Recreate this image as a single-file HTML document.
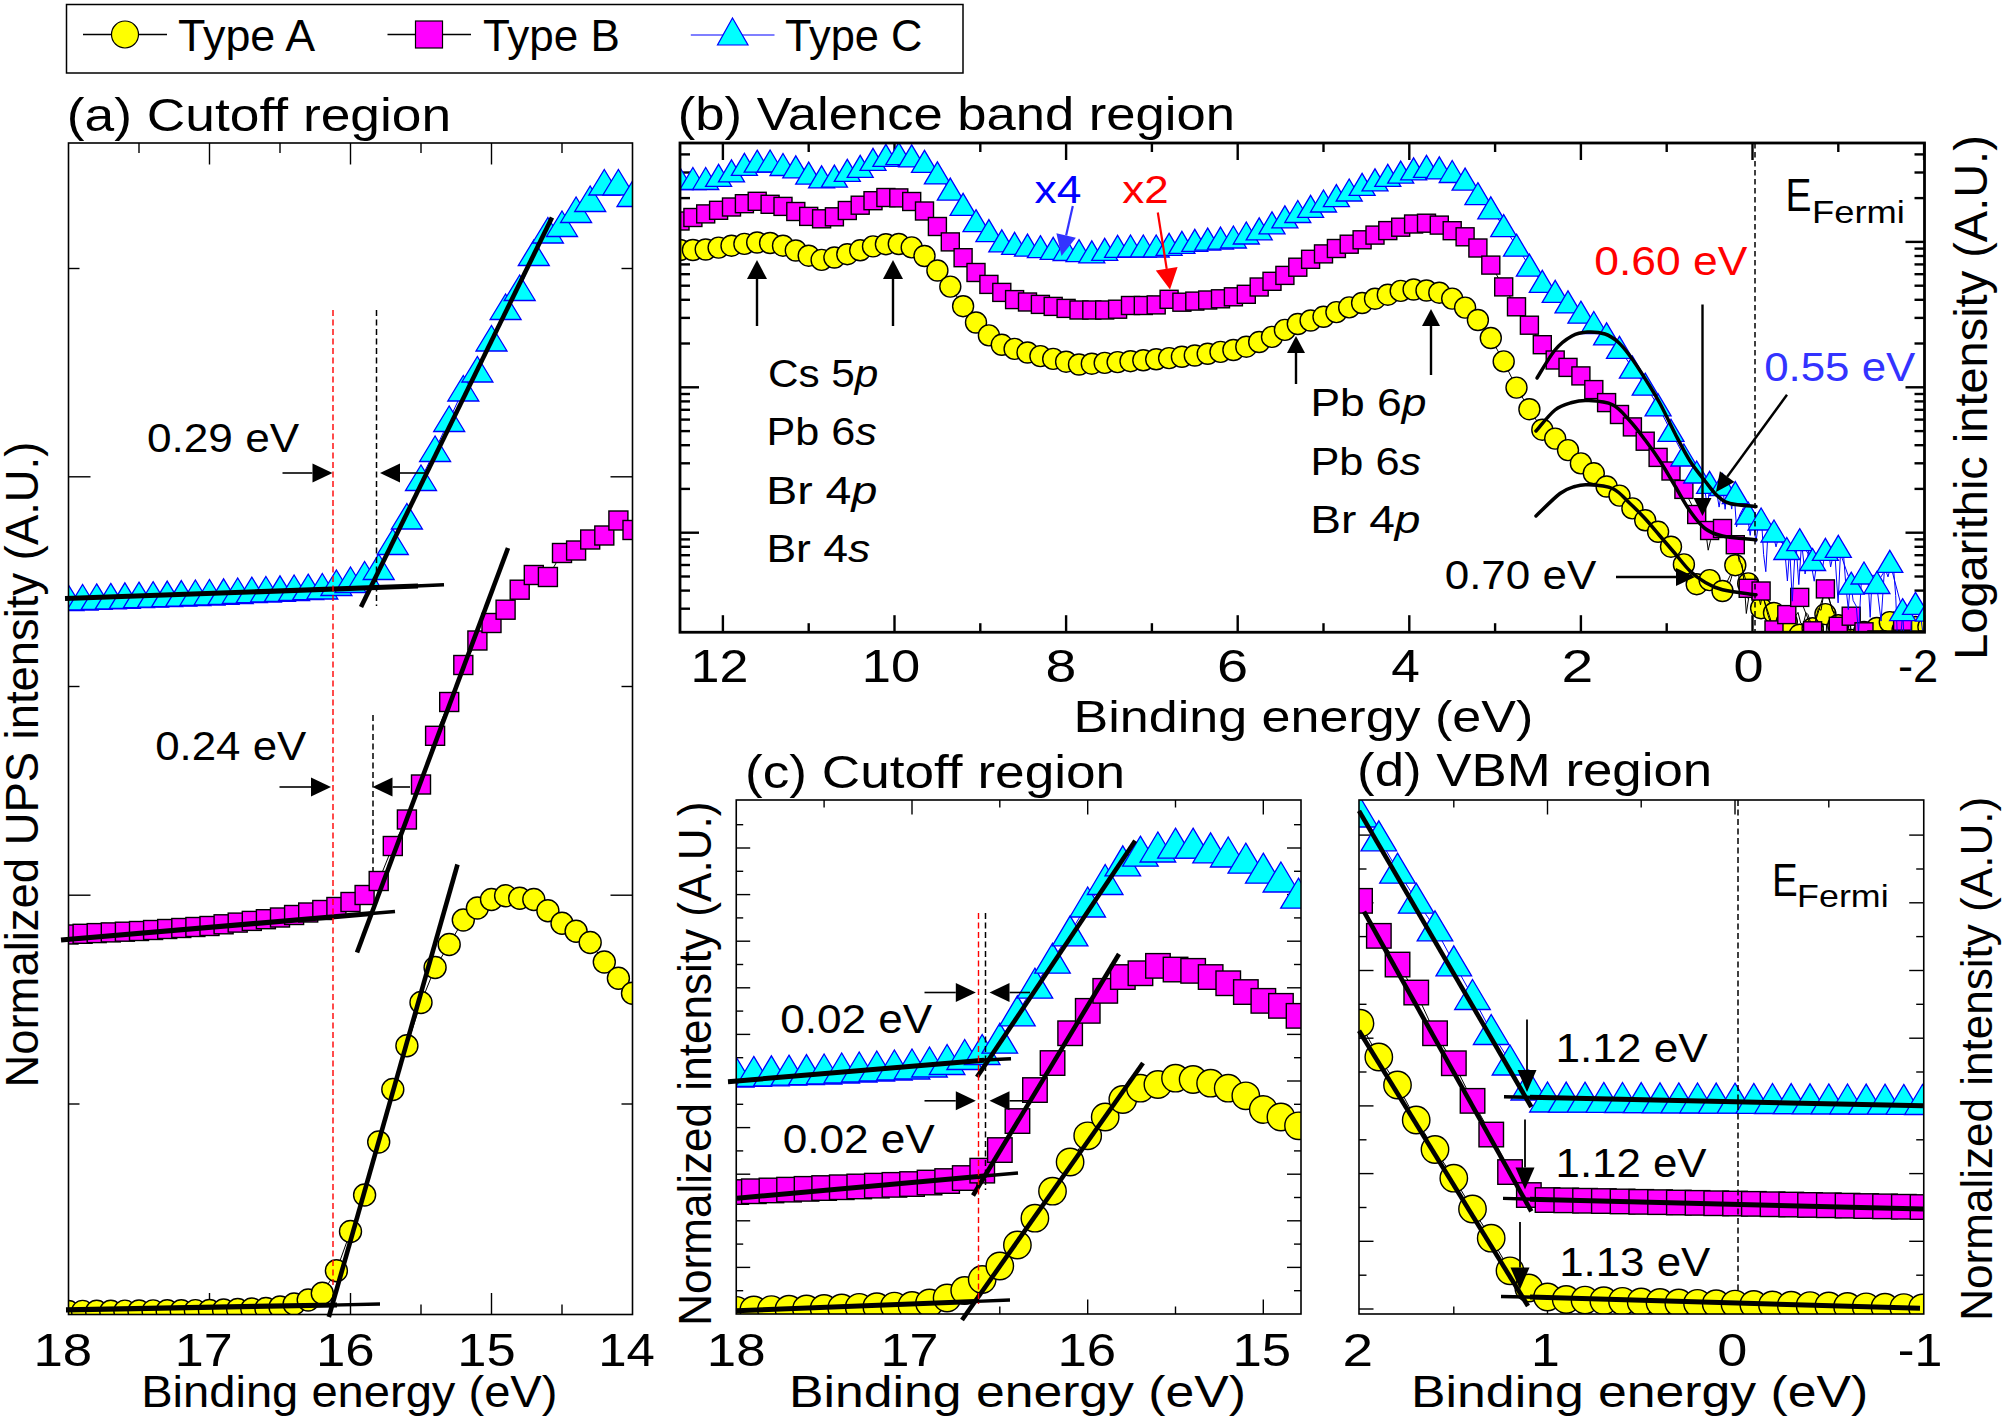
<!DOCTYPE html>
<html lang="en"><head><meta charset="utf-8"><title>UPS spectra: cutoff, valence band and VBM regions</title>
<style>html,body{margin:0;padding:0;background:#fff}svg{display:block}text{font-family:"Liberation Sans",Arial,sans-serif}</style>
</head><body>
<svg width="2007" height="1423" viewBox="0 0 2007 1423">
<rect width="2007" height="1423" fill="#fff"/>
<defs>
<circle id="ca" r="11" fill="#ff0" stroke="#000" stroke-width="1.4"/>
<rect id="sa" x="-9.5" y="-9.5" width="19" height="19" fill="#f0f" stroke="#000" stroke-width="1.4"/>
<path id="ta" d="M0 0L15.5 25.5H-15.5Z" fill="#0ff" stroke="#00f" stroke-width="1.3" stroke-linejoin="miter"/>
<circle id="cb" r="10.5" fill="#ff0" stroke="#000" stroke-width="1.4"/>
<rect id="sb" x="-9" y="-9" width="18" height="18" fill="#f0f" stroke="#000" stroke-width="1.4"/>
<path id="tb" d="M0 0L13 22H-13Z" fill="#0ff" stroke="#00f" stroke-width="1.3" stroke-linejoin="miter"/>
<circle id="cc" r="13.7" fill="#ff0" stroke="#000" stroke-width="1.4"/>
<rect id="sc" x="-12.2" y="-12.2" width="24.5" height="24.5" fill="#f0f" stroke="#000" stroke-width="1.4"/>
<path id="tc" d="M0 0L17.8 30H-17.8Z" fill="#0ff" stroke="#00f" stroke-width="1.3" stroke-linejoin="miter"/>
<clipPath id="clA"><rect x="68.5" y="143" width="564" height="1171.5"/></clipPath>
<clipPath id="clB"><rect x="680" y="143" width="1244.5" height="489.5"/></clipPath>
<clipPath id="clC"><rect x="736.25" y="800" width="564.75" height="514"/></clipPath>
<clipPath id="clD"><rect x="1359" y="800" width="564.75" height="514"/></clipPath>
</defs>
<rect x="66.5" y="4.5" width="896.5" height="68.5" fill="#fff" stroke="#000" stroke-width="1.5"/>
<line x1="83" y1="34.5" x2="167" y2="34.5" stroke="#000" stroke-width="1.3"/>
<circle cx="125" cy="34.5" r="13.5" fill="#ff0" stroke="#000" stroke-width="1.2"/>
<text x="178.1" y="51" font-size="43.5" textLength="137" lengthAdjust="spacingAndGlyphs" fill="#000">Type A</text>
<line x1="387.5" y1="34.5" x2="471" y2="34.5" stroke="#000" stroke-width="1.3"/>
<rect x="415.5" y="21" width="27" height="27" fill="#f0f" stroke="#000" stroke-width="1.2"/>
<text x="482.9" y="51" font-size="43.5" textLength="137" lengthAdjust="spacingAndGlyphs" fill="#000">Type B</text>
<line x1="690.8" y1="35" x2="774.5" y2="35" stroke="#00f" stroke-width="1.2"/>
<path d="M732.5 18L748 45H717.5Z" fill="#0ff" stroke="#00f" stroke-width="1.2"/>
<text x="784.9" y="51" font-size="43.5" textLength="137.5" lengthAdjust="spacingAndGlyphs" fill="#000">Type C</text>
<text x="66.8" y="131" font-size="46" textLength="384.3" lengthAdjust="spacingAndGlyphs" fill="#000">(a) Cutoff region</text>
<text x="677.8" y="129.5" font-size="46" textLength="557.1" lengthAdjust="spacingAndGlyphs" fill="#000">(b) Valence band region</text>
<text x="745.1" y="788" font-size="46" textLength="380" lengthAdjust="spacingAndGlyphs" fill="#000">(c) Cutoff region</text>
<text x="1357.1" y="786" font-size="46" textLength="355.1" lengthAdjust="spacingAndGlyphs" fill="#000">(d) VBM region</text>
<line x1="139" y1="143" x2="139" y2="153" stroke="#000" stroke-width="1.4"/>
<line x1="139" y1="1314.5" x2="139" y2="1304.5" stroke="#000" stroke-width="1.4"/>
<line x1="209.5" y1="143" x2="209.5" y2="164.5" stroke="#000" stroke-width="1.4"/>
<line x1="209.5" y1="1314.5" x2="209.5" y2="1293" stroke="#000" stroke-width="1.4"/>
<line x1="280" y1="143" x2="280" y2="153" stroke="#000" stroke-width="1.4"/>
<line x1="280" y1="1314.5" x2="280" y2="1304.5" stroke="#000" stroke-width="1.4"/>
<line x1="350.5" y1="143" x2="350.5" y2="164.5" stroke="#000" stroke-width="1.4"/>
<line x1="350.5" y1="1314.5" x2="350.5" y2="1293" stroke="#000" stroke-width="1.4"/>
<line x1="421" y1="143" x2="421" y2="153" stroke="#000" stroke-width="1.4"/>
<line x1="421" y1="1314.5" x2="421" y2="1304.5" stroke="#000" stroke-width="1.4"/>
<line x1="491.5" y1="143" x2="491.5" y2="164.5" stroke="#000" stroke-width="1.4"/>
<line x1="491.5" y1="1314.5" x2="491.5" y2="1293" stroke="#000" stroke-width="1.4"/>
<line x1="562" y1="143" x2="562" y2="153" stroke="#000" stroke-width="1.4"/>
<line x1="562" y1="1314.5" x2="562" y2="1304.5" stroke="#000" stroke-width="1.4"/>
<line x1="68.5" y1="1104" x2="79.5" y2="1104" stroke="#000" stroke-width="1.4"/>
<line x1="632.5" y1="1104" x2="621.5" y2="1104" stroke="#000" stroke-width="1.4"/>
<line x1="68.5" y1="895.2" x2="90.5" y2="895.2" stroke="#000" stroke-width="1.4"/>
<line x1="632.5" y1="895.2" x2="610.5" y2="895.2" stroke="#000" stroke-width="1.4"/>
<line x1="68.5" y1="686.5" x2="79.5" y2="686.5" stroke="#000" stroke-width="1.4"/>
<line x1="632.5" y1="686.5" x2="621.5" y2="686.5" stroke="#000" stroke-width="1.4"/>
<line x1="68.5" y1="476.8" x2="90.5" y2="476.8" stroke="#000" stroke-width="1.4"/>
<line x1="632.5" y1="476.8" x2="610.5" y2="476.8" stroke="#000" stroke-width="1.4"/>
<line x1="68.5" y1="268.5" x2="79.5" y2="268.5" stroke="#000" stroke-width="1.4"/>
<line x1="632.5" y1="268.5" x2="621.5" y2="268.5" stroke="#000" stroke-width="1.4"/>
<g clip-path="url(#clA)">
<polyline points="68.5,1311.5 82.6,1311.4 96.7,1311.3 110.8,1311.2 124.9,1311.1 139,1311 153.1,1310.9 167.2,1310.8 181.3,1310.7 195.4,1310.6 209.5,1310.5 223.6,1310 237.7,1309.5 251.8,1309 265.9,1308.5 280,1307 294.1,1304 308.2,1300 322.3,1293.2 336.4,1270.8 350.5,1231.5 364.6,1195 378.7,1142 392.8,1089.5 406.9,1045.8 421,1002.5 435.1,967.5 449.2,944.5 463.3,920 477.4,908 491.5,899.5 505.6,895.8 519.7,898.2 533.8,899.5 547.9,910.8 562,923.2 576.1,931.2 590.2,942.5 604.3,962 618.4,978.2 632.5,993.2" fill="none" stroke="#000" stroke-width="1"/>
<use href="#ca" x="68.5" y="1311.5"/>
<use href="#ca" x="82.6" y="1311.4"/>
<use href="#ca" x="96.7" y="1311.3"/>
<use href="#ca" x="110.8" y="1311.2"/>
<use href="#ca" x="124.9" y="1311.1"/>
<use href="#ca" x="139" y="1311"/>
<use href="#ca" x="153.1" y="1310.9"/>
<use href="#ca" x="167.2" y="1310.8"/>
<use href="#ca" x="181.3" y="1310.7"/>
<use href="#ca" x="195.4" y="1310.6"/>
<use href="#ca" x="209.5" y="1310.5"/>
<use href="#ca" x="223.6" y="1310"/>
<use href="#ca" x="237.7" y="1309.5"/>
<use href="#ca" x="251.8" y="1309"/>
<use href="#ca" x="265.9" y="1308.5"/>
<use href="#ca" x="280" y="1307"/>
<use href="#ca" x="294.1" y="1304"/>
<use href="#ca" x="308.2" y="1300"/>
<use href="#ca" x="322.3" y="1293.2"/>
<use href="#ca" x="336.4" y="1270.8"/>
<use href="#ca" x="350.5" y="1231.5"/>
<use href="#ca" x="364.6" y="1195"/>
<use href="#ca" x="378.7" y="1142"/>
<use href="#ca" x="392.8" y="1089.5"/>
<use href="#ca" x="406.9" y="1045.8"/>
<use href="#ca" x="421" y="1002.5"/>
<use href="#ca" x="435.1" y="967.5"/>
<use href="#ca" x="449.2" y="944.5"/>
<use href="#ca" x="463.3" y="920"/>
<use href="#ca" x="477.4" y="908"/>
<use href="#ca" x="491.5" y="899.5"/>
<use href="#ca" x="505.6" y="895.8"/>
<use href="#ca" x="519.7" y="898.2"/>
<use href="#ca" x="533.8" y="899.5"/>
<use href="#ca" x="547.9" y="910.8"/>
<use href="#ca" x="562" y="923.2"/>
<use href="#ca" x="576.1" y="931.2"/>
<use href="#ca" x="590.2" y="942.5"/>
<use href="#ca" x="604.3" y="962"/>
<use href="#ca" x="618.4" y="978.2"/>
<use href="#ca" x="632.5" y="993.2"/>
<polyline points="68.5,934.5 82.6,933.8 96.7,933.1 110.8,932.4 124.9,931.7 139,931 153.1,930 167.2,929 181.3,928 195.4,927 209.5,926 223.6,924.3 237.7,922.6 251.8,920.9 265.9,919.2 280,917.5 294.1,915 308.2,912.5 322.3,910 336.4,907 350.5,902 364.6,895 378.7,881 392.8,846 406.9,819.5 421,784.5 435.1,735.8 449.2,702 463.3,665 477.4,640.5 491.5,623 505.6,609.7 519.7,589.7 533.8,575 547.9,577 562,553 576.1,550.5 590.2,539.5 604.3,535.5 618.4,520.5 632.5,530" fill="none" stroke="#000" stroke-width="1"/>
<use href="#sa" x="68.5" y="934.5"/>
<use href="#sa" x="82.6" y="933.8"/>
<use href="#sa" x="96.7" y="933.1"/>
<use href="#sa" x="110.8" y="932.4"/>
<use href="#sa" x="124.9" y="931.7"/>
<use href="#sa" x="139" y="931"/>
<use href="#sa" x="153.1" y="930"/>
<use href="#sa" x="167.2" y="929"/>
<use href="#sa" x="181.3" y="928"/>
<use href="#sa" x="195.4" y="927"/>
<use href="#sa" x="209.5" y="926"/>
<use href="#sa" x="223.6" y="924.3"/>
<use href="#sa" x="237.7" y="922.6"/>
<use href="#sa" x="251.8" y="920.9"/>
<use href="#sa" x="265.9" y="919.2"/>
<use href="#sa" x="280" y="917.5"/>
<use href="#sa" x="294.1" y="915"/>
<use href="#sa" x="308.2" y="912.5"/>
<use href="#sa" x="322.3" y="910"/>
<use href="#sa" x="336.4" y="907"/>
<use href="#sa" x="350.5" y="902"/>
<use href="#sa" x="364.6" y="895"/>
<use href="#sa" x="378.7" y="881"/>
<use href="#sa" x="392.8" y="846"/>
<use href="#sa" x="406.9" y="819.5"/>
<use href="#sa" x="421" y="784.5"/>
<use href="#sa" x="435.1" y="735.8"/>
<use href="#sa" x="449.2" y="702"/>
<use href="#sa" x="463.3" y="665"/>
<use href="#sa" x="477.4" y="640.5"/>
<use href="#sa" x="491.5" y="623"/>
<use href="#sa" x="505.6" y="609.7"/>
<use href="#sa" x="519.7" y="589.7"/>
<use href="#sa" x="533.8" y="575"/>
<use href="#sa" x="547.9" y="577"/>
<use href="#sa" x="562" y="553"/>
<use href="#sa" x="576.1" y="550.5"/>
<use href="#sa" x="590.2" y="539.5"/>
<use href="#sa" x="604.3" y="535.5"/>
<use href="#sa" x="618.4" y="520.5"/>
<use href="#sa" x="632.5" y="530"/>
<polyline points="68.5,599 82.6,598.5 96.7,597.9 110.8,597.4 124.9,596.8 139,596.2 153.1,595.7 167.2,595.1 181.3,594.6 195.4,594 209.5,593.5 223.6,592.8 237.7,592 251.8,591.2 265.9,590.5 280,589.8 294.1,589 308.2,588.2 322.3,587.5 336.4,584 350.5,581 364.6,575.5 378.7,568 392.8,543 406.9,517.5 421,479 435.1,450 449.2,420 463.3,389.5 477.4,370.5 491.5,339.5 505.6,308 519.7,289 533.8,254 547.9,231.5 562,225 576.1,211 590.2,200 604.3,183.5 618.4,183.5 632.5,195" fill="none" stroke="#00f" stroke-width="1"/>
<use href="#ta" x="68.5" y="585"/>
<use href="#ta" x="82.6" y="584.5"/>
<use href="#ta" x="96.7" y="583.9"/>
<use href="#ta" x="110.8" y="583.4"/>
<use href="#ta" x="124.9" y="582.8"/>
<use href="#ta" x="139" y="582.2"/>
<use href="#ta" x="153.1" y="581.7"/>
<use href="#ta" x="167.2" y="581.1"/>
<use href="#ta" x="181.3" y="580.6"/>
<use href="#ta" x="195.4" y="580"/>
<use href="#ta" x="209.5" y="579.5"/>
<use href="#ta" x="223.6" y="578.8"/>
<use href="#ta" x="237.7" y="578"/>
<use href="#ta" x="251.8" y="577.2"/>
<use href="#ta" x="265.9" y="576.5"/>
<use href="#ta" x="280" y="575.8"/>
<use href="#ta" x="294.1" y="575"/>
<use href="#ta" x="308.2" y="574.2"/>
<use href="#ta" x="322.3" y="573.5"/>
<use href="#ta" x="336.4" y="570"/>
<use href="#ta" x="350.5" y="567"/>
<use href="#ta" x="364.6" y="561.5"/>
<use href="#ta" x="378.7" y="554"/>
<use href="#ta" x="392.8" y="529"/>
<use href="#ta" x="406.9" y="503.5"/>
<use href="#ta" x="421" y="465"/>
<use href="#ta" x="435.1" y="436"/>
<use href="#ta" x="449.2" y="406"/>
<use href="#ta" x="463.3" y="375.5"/>
<use href="#ta" x="477.4" y="356.5"/>
<use href="#ta" x="491.5" y="325.5"/>
<use href="#ta" x="505.6" y="294"/>
<use href="#ta" x="519.7" y="275"/>
<use href="#ta" x="533.8" y="240"/>
<use href="#ta" x="547.9" y="217.5"/>
<use href="#ta" x="562" y="211"/>
<use href="#ta" x="576.1" y="197"/>
<use href="#ta" x="590.2" y="186"/>
<use href="#ta" x="604.3" y="169.5"/>
<use href="#ta" x="618.4" y="169.5"/>
<use href="#ta" x="632.5" y="181"/>
</g>
<line x1="65" y1="598.5" x2="418" y2="586" stroke="#000" stroke-width="5.2"/>
<line x1="410" y1="586.3" x2="444" y2="584.8" stroke="#000" stroke-width="3.4"/>
<line x1="361" y1="607" x2="552" y2="217.5" stroke="#000" stroke-width="4.6"/>
<line x1="61" y1="940" x2="372" y2="913.5" stroke="#000" stroke-width="5.2"/>
<line x1="365" y1="914" x2="395" y2="911.5" stroke="#000" stroke-width="3.4"/>
<line x1="357" y1="952.5" x2="508" y2="548" stroke="#000" stroke-width="4.6"/>
<line x1="66" y1="1309.8" x2="337" y2="1305" stroke="#000" stroke-width="5.2"/>
<line x1="330" y1="1305.1" x2="380" y2="1304" stroke="#000" stroke-width="3.4"/>
<line x1="328.8" y1="1317" x2="457.5" y2="864.5" stroke="#000" stroke-width="4.6"/>
<line x1="333" y1="310" x2="333" y2="1285" stroke="#f00" stroke-width="1.4" stroke-dasharray="6 3.5"/>
<line x1="376.5" y1="310" x2="376.5" y2="606" stroke="#000" stroke-width="1.5" stroke-dasharray="6 3.5"/>
<line x1="373" y1="715" x2="373" y2="872" stroke="#000" stroke-width="1.5" stroke-dasharray="6 3.5"/>
<path d="M282.5 473L312.5 473" stroke="#000" stroke-width="1.6" fill="none"/>
<path d="M332.5 473L312.5 482.5L312.5 463.5Z" fill="#000"/>
<path d="M425 473L400 473" stroke="#000" stroke-width="1.6" fill="none"/>
<path d="M380 473L400 463.5L400 482.5Z" fill="#000"/>
<path d="M279.5 787L311 787" stroke="#000" stroke-width="1.6" fill="none"/>
<path d="M331 787L311 796.5L311 777.5Z" fill="#000"/>
<path d="M410 787L392.5 787" stroke="#000" stroke-width="1.6" fill="none"/>
<path d="M372.5 787L392.5 777.5L392.5 796.5Z" fill="#000"/>
<text x="147" y="451.8" font-size="40" textLength="152.1" lengthAdjust="spacingAndGlyphs" fill="#000">0.29 eV</text>
<text x="155.2" y="760" font-size="40" textLength="151.1" lengthAdjust="spacingAndGlyphs" fill="#000">0.24 eV</text>
<rect x="68.5" y="143" width="564.0" height="1171.5" fill="none" stroke="#000" stroke-width="1.6"/>
<text x="33.5" y="1365.8" font-size="46.5" textLength="58.7" lengthAdjust="spacingAndGlyphs" fill="#000">18</text>
<text x="174.8" y="1365.8" font-size="46.5" textLength="57.9" lengthAdjust="spacingAndGlyphs" fill="#000">17</text>
<text x="316" y="1365.8" font-size="46.5" textLength="58.7" lengthAdjust="spacingAndGlyphs" fill="#000">16</text>
<text x="457.3" y="1365.8" font-size="46.5" textLength="58.4" lengthAdjust="spacingAndGlyphs" fill="#000">15</text>
<text x="598.2" y="1365.8" font-size="46.5" textLength="56.7" lengthAdjust="spacingAndGlyphs" fill="#000">14</text>
<text x="141.2" y="1407" font-size="43.5" textLength="416.3" lengthAdjust="spacingAndGlyphs" fill="#000">Binding energy (eV)</text>
<text transform="translate(38.3,1084) rotate(-90)" x="-3.6" font-size="46.5" textLength="645.9" lengthAdjust="spacingAndGlyphs" fill="#000">Normalized UPS intensity (A.U.)</text>
<line x1="722.9" y1="143" x2="722.9" y2="160" stroke="#000" stroke-width="2.4"/>
<line x1="722.9" y1="632.2" x2="722.9" y2="615.2" stroke="#000" stroke-width="2.4"/>
<line x1="808.7" y1="143" x2="808.7" y2="152" stroke="#000" stroke-width="2.4"/>
<line x1="808.7" y1="632.2" x2="808.7" y2="623.2" stroke="#000" stroke-width="2.4"/>
<line x1="894.5" y1="143" x2="894.5" y2="160" stroke="#000" stroke-width="2.4"/>
<line x1="894.5" y1="632.2" x2="894.5" y2="615.2" stroke="#000" stroke-width="2.4"/>
<line x1="980.3" y1="143" x2="980.3" y2="152" stroke="#000" stroke-width="2.4"/>
<line x1="980.3" y1="632.2" x2="980.3" y2="623.2" stroke="#000" stroke-width="2.4"/>
<line x1="1066.1" y1="143" x2="1066.1" y2="160" stroke="#000" stroke-width="2.4"/>
<line x1="1066.1" y1="632.2" x2="1066.1" y2="615.2" stroke="#000" stroke-width="2.4"/>
<line x1="1151.9" y1="143" x2="1151.9" y2="152" stroke="#000" stroke-width="2.4"/>
<line x1="1151.9" y1="632.2" x2="1151.9" y2="623.2" stroke="#000" stroke-width="2.4"/>
<line x1="1237.7" y1="143" x2="1237.7" y2="160" stroke="#000" stroke-width="2.4"/>
<line x1="1237.7" y1="632.2" x2="1237.7" y2="615.2" stroke="#000" stroke-width="2.4"/>
<line x1="1323.5" y1="143" x2="1323.5" y2="152" stroke="#000" stroke-width="2.4"/>
<line x1="1323.5" y1="632.2" x2="1323.5" y2="623.2" stroke="#000" stroke-width="2.4"/>
<line x1="1409.3" y1="143" x2="1409.3" y2="160" stroke="#000" stroke-width="2.4"/>
<line x1="1409.3" y1="632.2" x2="1409.3" y2="615.2" stroke="#000" stroke-width="2.4"/>
<line x1="1495.1" y1="143" x2="1495.1" y2="152" stroke="#000" stroke-width="2.4"/>
<line x1="1495.1" y1="632.2" x2="1495.1" y2="623.2" stroke="#000" stroke-width="2.4"/>
<line x1="1580.9" y1="143" x2="1580.9" y2="160" stroke="#000" stroke-width="2.4"/>
<line x1="1580.9" y1="632.2" x2="1580.9" y2="615.2" stroke="#000" stroke-width="2.4"/>
<line x1="1666.7" y1="143" x2="1666.7" y2="152" stroke="#000" stroke-width="2.4"/>
<line x1="1666.7" y1="632.2" x2="1666.7" y2="623.2" stroke="#000" stroke-width="2.4"/>
<line x1="1752.5" y1="143" x2="1752.5" y2="160" stroke="#000" stroke-width="2.4"/>
<line x1="1752.5" y1="632.2" x2="1752.5" y2="615.2" stroke="#000" stroke-width="2.4"/>
<line x1="1838.3" y1="143" x2="1838.3" y2="152" stroke="#000" stroke-width="2.4"/>
<line x1="1838.3" y1="632.2" x2="1838.3" y2="623.2" stroke="#000" stroke-width="2.4"/>
<line x1="1924.1" y1="143" x2="1924.1" y2="160" stroke="#000" stroke-width="2.4"/>
<line x1="1924.1" y1="632.2" x2="1924.1" y2="615.2" stroke="#000" stroke-width="2.4"/>
<line x1="680" y1="241.9" x2="699" y2="241.9" stroke="#000" stroke-width="2.4"/>
<line x1="1924.5" y1="241.9" x2="1905.5" y2="241.9" stroke="#000" stroke-width="2.4"/>
<line x1="680" y1="198.1" x2="690" y2="198.1" stroke="#000" stroke-width="2.4"/>
<line x1="1924.5" y1="198.1" x2="1914.5" y2="198.1" stroke="#000" stroke-width="2.4"/>
<line x1="680" y1="172.5" x2="690" y2="172.5" stroke="#000" stroke-width="2.4"/>
<line x1="1924.5" y1="172.5" x2="1914.5" y2="172.5" stroke="#000" stroke-width="2.4"/>
<line x1="680" y1="154.4" x2="690" y2="154.4" stroke="#000" stroke-width="2.4"/>
<line x1="1924.5" y1="154.4" x2="1914.5" y2="154.4" stroke="#000" stroke-width="2.4"/>
<line x1="680" y1="387.3" x2="699" y2="387.3" stroke="#000" stroke-width="2.4"/>
<line x1="1924.5" y1="387.3" x2="1905.5" y2="387.3" stroke="#000" stroke-width="2.4"/>
<line x1="680" y1="343.5" x2="690" y2="343.5" stroke="#000" stroke-width="2.4"/>
<line x1="1924.5" y1="343.5" x2="1914.5" y2="343.5" stroke="#000" stroke-width="2.4"/>
<line x1="680" y1="317.9" x2="690" y2="317.9" stroke="#000" stroke-width="2.4"/>
<line x1="1924.5" y1="317.9" x2="1914.5" y2="317.9" stroke="#000" stroke-width="2.4"/>
<line x1="680" y1="299.8" x2="690" y2="299.8" stroke="#000" stroke-width="2.4"/>
<line x1="1924.5" y1="299.8" x2="1914.5" y2="299.8" stroke="#000" stroke-width="2.4"/>
<line x1="680" y1="285.7" x2="690" y2="285.7" stroke="#000" stroke-width="2.4"/>
<line x1="1924.5" y1="285.7" x2="1914.5" y2="285.7" stroke="#000" stroke-width="2.4"/>
<line x1="680" y1="274.2" x2="690" y2="274.2" stroke="#000" stroke-width="2.4"/>
<line x1="1924.5" y1="274.2" x2="1914.5" y2="274.2" stroke="#000" stroke-width="2.4"/>
<line x1="680" y1="264.4" x2="690" y2="264.4" stroke="#000" stroke-width="2.4"/>
<line x1="1924.5" y1="264.4" x2="1914.5" y2="264.4" stroke="#000" stroke-width="2.4"/>
<line x1="680" y1="256" x2="690" y2="256" stroke="#000" stroke-width="2.4"/>
<line x1="1924.5" y1="256" x2="1914.5" y2="256" stroke="#000" stroke-width="2.4"/>
<line x1="680" y1="248.6" x2="690" y2="248.6" stroke="#000" stroke-width="2.4"/>
<line x1="1924.5" y1="248.6" x2="1914.5" y2="248.6" stroke="#000" stroke-width="2.4"/>
<line x1="680" y1="532.7" x2="699" y2="532.7" stroke="#000" stroke-width="2.4"/>
<line x1="1924.5" y1="532.7" x2="1905.5" y2="532.7" stroke="#000" stroke-width="2.4"/>
<line x1="680" y1="488.9" x2="690" y2="488.9" stroke="#000" stroke-width="2.4"/>
<line x1="1924.5" y1="488.9" x2="1914.5" y2="488.9" stroke="#000" stroke-width="2.4"/>
<line x1="680" y1="463.3" x2="690" y2="463.3" stroke="#000" stroke-width="2.4"/>
<line x1="1924.5" y1="463.3" x2="1914.5" y2="463.3" stroke="#000" stroke-width="2.4"/>
<line x1="680" y1="445.2" x2="690" y2="445.2" stroke="#000" stroke-width="2.4"/>
<line x1="1924.5" y1="445.2" x2="1914.5" y2="445.2" stroke="#000" stroke-width="2.4"/>
<line x1="680" y1="431.1" x2="690" y2="431.1" stroke="#000" stroke-width="2.4"/>
<line x1="1924.5" y1="431.1" x2="1914.5" y2="431.1" stroke="#000" stroke-width="2.4"/>
<line x1="680" y1="419.6" x2="690" y2="419.6" stroke="#000" stroke-width="2.4"/>
<line x1="1924.5" y1="419.6" x2="1914.5" y2="419.6" stroke="#000" stroke-width="2.4"/>
<line x1="680" y1="409.8" x2="690" y2="409.8" stroke="#000" stroke-width="2.4"/>
<line x1="1924.5" y1="409.8" x2="1914.5" y2="409.8" stroke="#000" stroke-width="2.4"/>
<line x1="680" y1="401.4" x2="690" y2="401.4" stroke="#000" stroke-width="2.4"/>
<line x1="1924.5" y1="401.4" x2="1914.5" y2="401.4" stroke="#000" stroke-width="2.4"/>
<line x1="680" y1="394" x2="690" y2="394" stroke="#000" stroke-width="2.4"/>
<line x1="1924.5" y1="394" x2="1914.5" y2="394" stroke="#000" stroke-width="2.4"/>
<line x1="680" y1="608.7" x2="690" y2="608.7" stroke="#000" stroke-width="2.4"/>
<line x1="1924.5" y1="608.7" x2="1914.5" y2="608.7" stroke="#000" stroke-width="2.4"/>
<line x1="680" y1="590.6" x2="690" y2="590.6" stroke="#000" stroke-width="2.4"/>
<line x1="1924.5" y1="590.6" x2="1914.5" y2="590.6" stroke="#000" stroke-width="2.4"/>
<line x1="680" y1="576.5" x2="690" y2="576.5" stroke="#000" stroke-width="2.4"/>
<line x1="1924.5" y1="576.5" x2="1914.5" y2="576.5" stroke="#000" stroke-width="2.4"/>
<line x1="680" y1="565" x2="690" y2="565" stroke="#000" stroke-width="2.4"/>
<line x1="1924.5" y1="565" x2="1914.5" y2="565" stroke="#000" stroke-width="2.4"/>
<line x1="680" y1="555.2" x2="690" y2="555.2" stroke="#000" stroke-width="2.4"/>
<line x1="1924.5" y1="555.2" x2="1914.5" y2="555.2" stroke="#000" stroke-width="2.4"/>
<line x1="680" y1="546.8" x2="690" y2="546.8" stroke="#000" stroke-width="2.4"/>
<line x1="1924.5" y1="546.8" x2="1914.5" y2="546.8" stroke="#000" stroke-width="2.4"/>
<line x1="680" y1="539.4" x2="690" y2="539.4" stroke="#000" stroke-width="2.4"/>
<line x1="1924.5" y1="539.4" x2="1914.5" y2="539.4" stroke="#000" stroke-width="2.4"/>
<g clip-path="url(#clB)">
<polyline points="680,250 692.9,250 705.7,249.5 718.6,247.6 731.5,245.7 744.4,243.9 757.2,242.5 770.1,243 783,245.7 795.8,250.5 808.7,255.7 821.6,259.9 834.4,257.5 847.3,254.2 860.2,250.3 873,246.4 885.9,244.2 898.8,244 911.7,247.4 924.5,256 937.4,270.5 950.3,286.6 963.1,306.2 976,322.5 988.9,335.4 1001.8,344.8 1014.6,348.9 1027.5,352.5 1040.4,356.1 1053.2,358.9 1066.1,361.7 1079,364.5 1091.8,363.7 1104.7,362.9 1117.6,362.1 1130.5,361.2 1143.3,360.3 1156.2,359.3 1169.1,358.1 1181.9,356.8 1194.8,355.5 1207.7,353.8 1220.5,351.9 1233.4,350 1246.3,346.7 1259.2,342 1272,336.9 1284.9,329.9 1297.8,324 1310.6,320.5 1323.5,316.8 1336.4,312.1 1349.2,307.4 1362.1,303 1375,298.7 1387.8,294.7 1400.7,290.9 1413.6,289.5 1426.5,290.5 1439.3,292.7 1452.2,298.6 1465.1,307.6 1477.9,320 1490.8,338 1503.7,361.4 1516.5,387.6 1529.4,409.2 1542.3,429.7 1555.2,438.6 1568,450.1 1580.9,463.4 1593.8,473.3 1606.6,486.5 1619.5,495.6 1632.4,508.4 1645.2,520.3 1658.1,531.8 1671,546.7 1683.9,564.4 1696.7,584.2 1709.6,580.1 1722.5,591 1735.3,565.2 1748.2,583.4 1761.1,608.2 1774,613 1786.8,621.8 1799.7,634.7 1812.6,628.2 1825.4,614.1 1838.3,625.3 1851.2,639.9 1864,632 1876.9,628 1889.8,622.1 1902.6,629.9 1915.5,627 1928.4,627" fill="none" stroke="#000" stroke-width="1"/>
<polyline points="1690,574.6 1693,581.3 1695.4,584.9 1697.3,582.8 1699.3,584.9 1701.3,583.6 1704.8,586.5 1708.3,582.5 1710.7,579.2 1713,586.5 1715.9,590.7 1718.7,585.8 1720.8,596 1723.2,596.5 1725.5,594.1 1727.8,588 1731.1,578.8 1734.7,565.4 1737.9,569.2 1739.7,583.3 1742.6,595.7 1745.6,589.9 1748.2,598.7 1750.9,593.1 1754,611.3 1757.2,600.6 1760.2,607 1762.3,607.1 1765.5,609.4 1768,631.3 1770.6,616.4 1773.9,639.3 1776.5,618.3 1780,614.2 1782.2,619 1785.1,616.3 1787.6,624 1791.1,640.1 1794.1,635.1 1797.5,653.9 1800.7,634.4 1802.7,640.4 1804.6,629.6 1807,626.3 1809.1,629.5 1810.9,675.3 1813,627.1 1815.5,630.6 1819.1,622.1 1821,618.1 1823.3,626.5 1825.1,661.3 1827.2,609.5 1829.9,678.9 1833,619.5 1835.1,641.4 1838.3,622.6 1841.6,694.2 1844.8,658 1847,634.5 1848.9,635.5 1851.1,671.3 1853.7,713.7 1857.3,633.1 1859.5,631.5 1862.4,704.6 1865.1,661.1 1867,663.7 1870.2,651.4 1872.3,646.9 1875.6,682 1878.1,698.5 1880.2,622 1883.6,637.9 1886.9,693.5 1889.4,617.2 1891.2,693.7 1893.9,684.6 1897.3,642.6 1899.5,625.1 1902.4,630 1904.4,687.5 1907.1,667.3 1909.6,696 1912.4,619.8 1915,618.9 1918.2,628.1 1921.3,648.1" fill="none" stroke="#000" stroke-width="1"/>
<use href="#cb" x="680" y="250"/>
<use href="#cb" x="692.9" y="250"/>
<use href="#cb" x="705.7" y="249.5"/>
<use href="#cb" x="718.6" y="247.6"/>
<use href="#cb" x="731.5" y="245.7"/>
<use href="#cb" x="744.4" y="243.9"/>
<use href="#cb" x="757.2" y="242.5"/>
<use href="#cb" x="770.1" y="243"/>
<use href="#cb" x="783" y="245.7"/>
<use href="#cb" x="795.8" y="250.5"/>
<use href="#cb" x="808.7" y="255.7"/>
<use href="#cb" x="821.6" y="259.9"/>
<use href="#cb" x="834.4" y="257.5"/>
<use href="#cb" x="847.3" y="254.2"/>
<use href="#cb" x="860.2" y="250.3"/>
<use href="#cb" x="873" y="246.4"/>
<use href="#cb" x="885.9" y="244.2"/>
<use href="#cb" x="898.8" y="244"/>
<use href="#cb" x="911.7" y="247.4"/>
<use href="#cb" x="924.5" y="256"/>
<use href="#cb" x="937.4" y="270.5"/>
<use href="#cb" x="950.3" y="286.6"/>
<use href="#cb" x="963.1" y="306.2"/>
<use href="#cb" x="976" y="322.5"/>
<use href="#cb" x="988.9" y="335.4"/>
<use href="#cb" x="1001.8" y="344.8"/>
<use href="#cb" x="1014.6" y="348.9"/>
<use href="#cb" x="1027.5" y="352.5"/>
<use href="#cb" x="1040.4" y="356.1"/>
<use href="#cb" x="1053.2" y="358.9"/>
<use href="#cb" x="1066.1" y="361.7"/>
<use href="#cb" x="1079" y="364.5"/>
<use href="#cb" x="1091.8" y="363.7"/>
<use href="#cb" x="1104.7" y="362.9"/>
<use href="#cb" x="1117.6" y="362.1"/>
<use href="#cb" x="1130.5" y="361.2"/>
<use href="#cb" x="1143.3" y="360.3"/>
<use href="#cb" x="1156.2" y="359.3"/>
<use href="#cb" x="1169.1" y="358.1"/>
<use href="#cb" x="1181.9" y="356.8"/>
<use href="#cb" x="1194.8" y="355.5"/>
<use href="#cb" x="1207.7" y="353.8"/>
<use href="#cb" x="1220.5" y="351.9"/>
<use href="#cb" x="1233.4" y="350"/>
<use href="#cb" x="1246.3" y="346.7"/>
<use href="#cb" x="1259.2" y="342"/>
<use href="#cb" x="1272" y="336.9"/>
<use href="#cb" x="1284.9" y="329.9"/>
<use href="#cb" x="1297.8" y="324"/>
<use href="#cb" x="1310.6" y="320.5"/>
<use href="#cb" x="1323.5" y="316.8"/>
<use href="#cb" x="1336.4" y="312.1"/>
<use href="#cb" x="1349.2" y="307.4"/>
<use href="#cb" x="1362.1" y="303"/>
<use href="#cb" x="1375" y="298.7"/>
<use href="#cb" x="1387.8" y="294.7"/>
<use href="#cb" x="1400.7" y="290.9"/>
<use href="#cb" x="1413.6" y="289.5"/>
<use href="#cb" x="1426.5" y="290.5"/>
<use href="#cb" x="1439.3" y="292.7"/>
<use href="#cb" x="1452.2" y="298.6"/>
<use href="#cb" x="1465.1" y="307.6"/>
<use href="#cb" x="1477.9" y="320"/>
<use href="#cb" x="1490.8" y="338"/>
<use href="#cb" x="1503.7" y="361.4"/>
<use href="#cb" x="1516.5" y="387.6"/>
<use href="#cb" x="1529.4" y="409.2"/>
<use href="#cb" x="1542.3" y="429.7"/>
<use href="#cb" x="1555.2" y="438.6"/>
<use href="#cb" x="1568" y="450.1"/>
<use href="#cb" x="1580.9" y="463.4"/>
<use href="#cb" x="1593.8" y="473.3"/>
<use href="#cb" x="1606.6" y="486.5"/>
<use href="#cb" x="1619.5" y="495.6"/>
<use href="#cb" x="1632.4" y="508.4"/>
<use href="#cb" x="1645.2" y="520.3"/>
<use href="#cb" x="1658.1" y="531.8"/>
<use href="#cb" x="1671" y="546.7"/>
<use href="#cb" x="1683.9" y="564.4"/>
<use href="#cb" x="1696.7" y="584.2"/>
<use href="#cb" x="1709.6" y="580.1"/>
<use href="#cb" x="1722.5" y="591"/>
<use href="#cb" x="1735.3" y="565.2"/>
<use href="#cb" x="1748.2" y="583.4"/>
<use href="#cb" x="1761.1" y="608.2"/>
<use href="#cb" x="1774" y="613"/>
<use href="#cb" x="1786.8" y="621.8"/>
<use href="#cb" x="1799.7" y="634.7"/>
<use href="#cb" x="1812.6" y="628.2"/>
<use href="#cb" x="1825.4" y="614.1"/>
<use href="#cb" x="1838.3" y="625.3"/>
<use href="#cb" x="1851.2" y="639.9"/>
<use href="#cb" x="1864" y="632"/>
<use href="#cb" x="1876.9" y="628"/>
<use href="#cb" x="1889.8" y="622.1"/>
<use href="#cb" x="1902.6" y="629.9"/>
<use href="#cb" x="1915.5" y="627"/>
<use href="#cb" x="1928.4" y="627"/>
<polyline points="680,221 692.9,217.5 705.7,213.9 718.6,210.3 731.5,207 744.4,203.7 757.2,201.3 770.1,204.3 783,206.4 795.8,211.5 808.7,216.4 821.6,218.8 834.4,216.8 847.3,210.5 860.2,205.2 873,200.7 885.9,197.5 898.8,197.9 911.7,201.5 924.5,211 937.4,226.5 950.3,241.9 963.1,257.7 976,272.5 988.9,284.4 1001.8,292.4 1014.6,299.6 1027.5,302 1040.4,304.4 1053.2,306.4 1066.1,308.4 1079,310 1091.8,310 1104.7,310 1117.6,309.2 1130.5,305.5 1143.3,305.5 1156.2,304.9 1169.1,299.3 1181.9,302.2 1194.8,301.1 1207.7,300 1220.5,298.8 1233.4,296.8 1246.3,294.3 1259.2,287 1272,281.3 1284.9,275.4 1297.8,267.2 1310.6,259.3 1323.5,253.9 1336.4,248.5 1349.2,244.2 1362.1,239.8 1375,235.1 1387.8,230.6 1400.7,227.2 1413.6,224 1426.5,223.2 1439.3,225.1 1452.2,230.7 1465.1,236.8 1477.9,248 1490.8,265.1 1503.7,286.9 1516.5,306.8 1529.4,325.2 1542.3,344.7 1555.2,360 1568,367.4 1580.9,375.9 1593.8,389.6 1606.6,402.6 1619.5,414.5 1632.4,426.9 1645.2,441.2 1658.1,457.4 1671,471 1683.9,489.4 1696.7,514.5 1709.6,530.5 1722.5,528.5 1735.3,544.7 1748.2,588.3 1761.1,591 1774,629.9 1786.8,614.6 1799.7,597.4 1812.6,630.8 1825.4,588.9 1838.3,626.3 1851.2,616.2 1864,631.8 1876.9,639.9 1889.8,640 1902.6,621.2 1915.5,640 1928.4,640" fill="none" stroke="#000" stroke-width="1"/>
<polyline points="1690,506.5 1692,507.9 1694.3,514.1 1697.1,522.4 1699.7,523.7 1702.4,526.9 1705.2,527.4 1708.2,550.2 1710.5,540.4 1713.8,528.8 1716.4,528.8 1718.3,538.7 1721.8,530.3 1724.7,533.8 1728.3,538.6 1730.8,542 1734.1,542.5 1736.8,548.3 1739.2,561.3 1742,564.5 1744.4,585 1746.3,613.5 1749.9,589.9 1751.7,598.3 1753.8,594.9 1757,588.9 1760.5,604.8 1762.5,593.3 1765,604.1 1768,615.2 1771.3,625 1773.9,631.1 1777.4,626.9 1780.1,622.3 1782.2,619.8 1784.6,621.6 1786.9,612 1789.3,609.3 1791.2,623.6 1793.3,611.4 1795.3,616.5 1798,612.4 1800.7,623 1803.1,624.7 1806.1,612.7 1808,614.6 1811.1,624.1 1813,653 1816.1,617.2 1818.4,608.6 1821,610.3 1824.5,589.5 1828.1,593.4 1829.9,601.3 1832.6,611.1 1834.4,611.7 1836.9,619.4 1839.3,628 1842,646.2 1845.1,666.9 1847.5,654.9 1850.6,624.9 1853.9,678.5 1857,634.6 1859.8,633.2 1863,654 1866.4,660.5 1868.6,630.5 1871.1,643.5 1873.9,663.9 1876.9,633 1880.1,663 1882.9,650.6 1886,634 1888.3,655 1891.4,700.4 1893.9,638.9 1897.1,658.1 1899,623.2 1902.2,624.3 1904,620.5 1907,659 1909.3,632.3 1912,644.7 1914.1,733.3 1916,648 1919.5,637 1921.7,693.2" fill="none" stroke="#000" stroke-width="1"/>
<use href="#sb" x="680" y="221"/>
<use href="#sb" x="692.9" y="217.5"/>
<use href="#sb" x="705.7" y="213.9"/>
<use href="#sb" x="718.6" y="210.3"/>
<use href="#sb" x="731.5" y="207"/>
<use href="#sb" x="744.4" y="203.7"/>
<use href="#sb" x="757.2" y="201.3"/>
<use href="#sb" x="770.1" y="204.3"/>
<use href="#sb" x="783" y="206.4"/>
<use href="#sb" x="795.8" y="211.5"/>
<use href="#sb" x="808.7" y="216.4"/>
<use href="#sb" x="821.6" y="218.8"/>
<use href="#sb" x="834.4" y="216.8"/>
<use href="#sb" x="847.3" y="210.5"/>
<use href="#sb" x="860.2" y="205.2"/>
<use href="#sb" x="873" y="200.7"/>
<use href="#sb" x="885.9" y="197.5"/>
<use href="#sb" x="898.8" y="197.9"/>
<use href="#sb" x="911.7" y="201.5"/>
<use href="#sb" x="924.5" y="211"/>
<use href="#sb" x="937.4" y="226.5"/>
<use href="#sb" x="950.3" y="241.9"/>
<use href="#sb" x="963.1" y="257.7"/>
<use href="#sb" x="976" y="272.5"/>
<use href="#sb" x="988.9" y="284.4"/>
<use href="#sb" x="1001.8" y="292.4"/>
<use href="#sb" x="1014.6" y="299.6"/>
<use href="#sb" x="1027.5" y="302"/>
<use href="#sb" x="1040.4" y="304.4"/>
<use href="#sb" x="1053.2" y="306.4"/>
<use href="#sb" x="1066.1" y="308.4"/>
<use href="#sb" x="1079" y="310"/>
<use href="#sb" x="1091.8" y="310"/>
<use href="#sb" x="1104.7" y="310"/>
<use href="#sb" x="1117.6" y="309.2"/>
<use href="#sb" x="1130.5" y="305.5"/>
<use href="#sb" x="1143.3" y="305.5"/>
<use href="#sb" x="1156.2" y="304.9"/>
<use href="#sb" x="1169.1" y="299.3"/>
<use href="#sb" x="1181.9" y="302.2"/>
<use href="#sb" x="1194.8" y="301.1"/>
<use href="#sb" x="1207.7" y="300"/>
<use href="#sb" x="1220.5" y="298.8"/>
<use href="#sb" x="1233.4" y="296.8"/>
<use href="#sb" x="1246.3" y="294.3"/>
<use href="#sb" x="1259.2" y="287"/>
<use href="#sb" x="1272" y="281.3"/>
<use href="#sb" x="1284.9" y="275.4"/>
<use href="#sb" x="1297.8" y="267.2"/>
<use href="#sb" x="1310.6" y="259.3"/>
<use href="#sb" x="1323.5" y="253.9"/>
<use href="#sb" x="1336.4" y="248.5"/>
<use href="#sb" x="1349.2" y="244.2"/>
<use href="#sb" x="1362.1" y="239.8"/>
<use href="#sb" x="1375" y="235.1"/>
<use href="#sb" x="1387.8" y="230.6"/>
<use href="#sb" x="1400.7" y="227.2"/>
<use href="#sb" x="1413.6" y="224"/>
<use href="#sb" x="1426.5" y="223.2"/>
<use href="#sb" x="1439.3" y="225.1"/>
<use href="#sb" x="1452.2" y="230.7"/>
<use href="#sb" x="1465.1" y="236.8"/>
<use href="#sb" x="1477.9" y="248"/>
<use href="#sb" x="1490.8" y="265.1"/>
<use href="#sb" x="1503.7" y="286.9"/>
<use href="#sb" x="1516.5" y="306.8"/>
<use href="#sb" x="1529.4" y="325.2"/>
<use href="#sb" x="1542.3" y="344.7"/>
<use href="#sb" x="1555.2" y="360"/>
<use href="#sb" x="1568" y="367.4"/>
<use href="#sb" x="1580.9" y="375.9"/>
<use href="#sb" x="1593.8" y="389.6"/>
<use href="#sb" x="1606.6" y="402.6"/>
<use href="#sb" x="1619.5" y="414.5"/>
<use href="#sb" x="1632.4" y="426.9"/>
<use href="#sb" x="1645.2" y="441.2"/>
<use href="#sb" x="1658.1" y="457.4"/>
<use href="#sb" x="1671" y="471"/>
<use href="#sb" x="1683.9" y="489.4"/>
<use href="#sb" x="1696.7" y="514.5"/>
<use href="#sb" x="1709.6" y="530.5"/>
<use href="#sb" x="1722.5" y="528.5"/>
<use href="#sb" x="1735.3" y="544.7"/>
<use href="#sb" x="1748.2" y="588.3"/>
<use href="#sb" x="1761.1" y="591"/>
<use href="#sb" x="1774" y="629.9"/>
<use href="#sb" x="1786.8" y="614.6"/>
<use href="#sb" x="1799.7" y="597.4"/>
<use href="#sb" x="1812.6" y="630.8"/>
<use href="#sb" x="1825.4" y="588.9"/>
<use href="#sb" x="1838.3" y="626.3"/>
<use href="#sb" x="1851.2" y="616.2"/>
<use href="#sb" x="1864" y="631.8"/>
<use href="#sb" x="1876.9" y="639.9"/>
<use href="#sb" x="1889.8" y="640"/>
<use href="#sb" x="1902.6" y="621.2"/>
<use href="#sb" x="1915.5" y="640"/>
<use href="#sb" x="1928.4" y="640"/>
<polyline points="680,179.5 692.9,179.5 705.7,179.5 718.6,176.4 731.5,171.9 744.4,165.3 757.2,162.2 770.1,162 783,165.5 795.8,167.8 808.7,174.1 821.6,177.9 834.4,177.1 847.3,171.3 860.2,167.3 873,160.3 885.9,156.3 898.8,154.6 911.7,156.9 924.5,162.4 937.4,173.9 950.3,190.1 963.1,205.4 976,221.7 988.9,231.6 1001.8,241.8 1014.6,244.4 1027.5,246.1 1040.4,247.7 1053.2,249.3 1066.1,250.5 1079,251.7 1091.8,252.9 1104.7,250.3 1117.6,247.3 1130.5,247 1143.3,247 1156.2,247 1169.1,245.3 1181.9,243.3 1194.8,241.3 1207.7,240.1 1220.5,239.1 1233.4,238 1246.3,234 1259.2,229.8 1272,223.8 1284.9,217.8 1297.8,212.5 1310.6,207.3 1323.5,202 1336.4,196.6 1349.2,191 1362.1,185.3 1375,180.8 1387.8,176.4 1400.7,173.1 1413.6,169.9 1426.5,167.3 1439.3,168.9 1452.2,172.5 1465.1,180.1 1477.9,194.7 1490.8,208.8 1503.7,226.6 1516.5,246.2 1529.4,266.1 1542.3,282.4 1555.2,292.4 1568,302.9 1580.9,313.2 1593.8,323.5 1606.6,334.9 1619.5,348.4 1632.4,368.1 1645.2,385.2 1658.1,405.9 1671,431.4 1683.9,456 1696.7,473 1709.6,483.3 1722.5,485.5 1735.3,493.6 1748.2,514.2 1761.1,520 1774,532 1786.8,549.5 1799.7,540.7 1812.6,560.5 1825.4,550.4 1838.3,547.4 1851.2,584.2 1864,574 1876.9,583.5 1889.8,562.4 1902.6,610.7 1915.5,604.3 1928.4,611.1" fill="none" stroke="#00f" stroke-width="1"/>
<polyline points="1700,476.4 1703.5,480.9 1706.2,499 1708.4,498.3 1710.3,483.8 1712.9,482.6 1715.3,486.4 1717.1,494.4 1719.1,507.1 1722.6,485.3 1725.1,509.3 1727.5,487.8 1729.4,492.5 1731.7,509.1 1734,491.2 1736.5,527 1739.7,514.8 1743.2,508.2 1745.1,518.7 1748.3,522.1 1750.2,535.4 1752.8,515.9 1755.9,542.2 1758.9,520.4 1761.4,517.8 1763.6,554.4 1765.8,571.7 1768.4,524.2 1770.4,525.1 1772.6,532.2 1776,546.9 1778.5,537.5 1781,539.8 1784.5,547.3 1787.4,581 1789.7,548.5 1792.3,601.2 1795.7,539.2 1798.8,584.6 1801.6,542.8 1805.1,574 1808.6,550.2 1810.7,561.3 1814.2,581.2 1817.4,558.5 1819.3,567.9 1822.7,567.2 1824.8,554 1827.8,544.6 1830.6,567 1832.8,556.8 1835.1,556.8 1838.1,602.9 1840.3,556.8 1843.3,551.6 1846,587.4 1848.3,609.6 1850.5,580.7 1853.1,600.4 1856.3,606.3 1858.5,633 1861.8,572.9 1864.9,583.1 1867.6,571.7 1870.2,617.3 1872.2,575.4 1875.8,575.3 1877.7,593.2 1881.1,621.1 1884.6,566.9 1888,576.9 1891,565.1 1893.4,566.4 1895.7,595.6 1897.8,648.5 1900.2,642.1 1902.8,612.4 1905.3,668.1 1907.7,656.2 1910.2,648 1912.1,598.3 1915.6,611.9 1919,602.3 1922.5,630.1" fill="none" stroke="#00f" stroke-width="1"/>
<use href="#tb" x="680" y="167.5"/>
<use href="#tb" x="692.9" y="167.5"/>
<use href="#tb" x="705.7" y="167.5"/>
<use href="#tb" x="718.6" y="164.4"/>
<use href="#tb" x="731.5" y="159.9"/>
<use href="#tb" x="744.4" y="153.3"/>
<use href="#tb" x="757.2" y="150.2"/>
<use href="#tb" x="770.1" y="150"/>
<use href="#tb" x="783" y="153.5"/>
<use href="#tb" x="795.8" y="155.8"/>
<use href="#tb" x="808.7" y="162.1"/>
<use href="#tb" x="821.6" y="165.9"/>
<use href="#tb" x="834.4" y="165.1"/>
<use href="#tb" x="847.3" y="159.3"/>
<use href="#tb" x="860.2" y="155.3"/>
<use href="#tb" x="873" y="148.3"/>
<use href="#tb" x="885.9" y="144.3"/>
<use href="#tb" x="898.8" y="142.6"/>
<use href="#tb" x="911.7" y="144.9"/>
<use href="#tb" x="924.5" y="150.4"/>
<use href="#tb" x="937.4" y="161.9"/>
<use href="#tb" x="950.3" y="178.1"/>
<use href="#tb" x="963.1" y="193.4"/>
<use href="#tb" x="976" y="209.7"/>
<use href="#tb" x="988.9" y="219.6"/>
<use href="#tb" x="1001.8" y="229.8"/>
<use href="#tb" x="1014.6" y="232.4"/>
<use href="#tb" x="1027.5" y="234.1"/>
<use href="#tb" x="1040.4" y="235.7"/>
<use href="#tb" x="1053.2" y="237.3"/>
<use href="#tb" x="1066.1" y="238.5"/>
<use href="#tb" x="1079" y="239.7"/>
<use href="#tb" x="1091.8" y="240.9"/>
<use href="#tb" x="1104.7" y="238.3"/>
<use href="#tb" x="1117.6" y="235.3"/>
<use href="#tb" x="1130.5" y="235"/>
<use href="#tb" x="1143.3" y="235"/>
<use href="#tb" x="1156.2" y="235"/>
<use href="#tb" x="1169.1" y="233.3"/>
<use href="#tb" x="1181.9" y="231.3"/>
<use href="#tb" x="1194.8" y="229.3"/>
<use href="#tb" x="1207.7" y="228.1"/>
<use href="#tb" x="1220.5" y="227.1"/>
<use href="#tb" x="1233.4" y="226"/>
<use href="#tb" x="1246.3" y="222"/>
<use href="#tb" x="1259.2" y="217.8"/>
<use href="#tb" x="1272" y="211.8"/>
<use href="#tb" x="1284.9" y="205.8"/>
<use href="#tb" x="1297.8" y="200.5"/>
<use href="#tb" x="1310.6" y="195.3"/>
<use href="#tb" x="1323.5" y="190"/>
<use href="#tb" x="1336.4" y="184.6"/>
<use href="#tb" x="1349.2" y="179"/>
<use href="#tb" x="1362.1" y="173.3"/>
<use href="#tb" x="1375" y="168.8"/>
<use href="#tb" x="1387.8" y="164.4"/>
<use href="#tb" x="1400.7" y="161.1"/>
<use href="#tb" x="1413.6" y="157.9"/>
<use href="#tb" x="1426.5" y="155.3"/>
<use href="#tb" x="1439.3" y="156.9"/>
<use href="#tb" x="1452.2" y="160.5"/>
<use href="#tb" x="1465.1" y="168.1"/>
<use href="#tb" x="1477.9" y="182.7"/>
<use href="#tb" x="1490.8" y="196.8"/>
<use href="#tb" x="1503.7" y="214.6"/>
<use href="#tb" x="1516.5" y="234.2"/>
<use href="#tb" x="1529.4" y="254.1"/>
<use href="#tb" x="1542.3" y="270.4"/>
<use href="#tb" x="1555.2" y="280.4"/>
<use href="#tb" x="1568" y="290.9"/>
<use href="#tb" x="1580.9" y="301.2"/>
<use href="#tb" x="1593.8" y="311.5"/>
<use href="#tb" x="1606.6" y="322.9"/>
<use href="#tb" x="1619.5" y="336.4"/>
<use href="#tb" x="1632.4" y="356.1"/>
<use href="#tb" x="1645.2" y="373.2"/>
<use href="#tb" x="1658.1" y="393.9"/>
<use href="#tb" x="1671" y="419.4"/>
<use href="#tb" x="1683.9" y="444"/>
<use href="#tb" x="1696.7" y="461"/>
<use href="#tb" x="1709.6" y="471.3"/>
<use href="#tb" x="1722.5" y="473.5"/>
<use href="#tb" x="1735.3" y="481.6"/>
<use href="#tb" x="1748.2" y="502.2"/>
<use href="#tb" x="1761.1" y="508"/>
<use href="#tb" x="1774" y="520"/>
<use href="#tb" x="1786.8" y="537.5"/>
<use href="#tb" x="1799.7" y="528.7"/>
<use href="#tb" x="1812.6" y="548.5"/>
<use href="#tb" x="1825.4" y="538.4"/>
<use href="#tb" x="1838.3" y="535.4"/>
<use href="#tb" x="1851.2" y="572.2"/>
<use href="#tb" x="1864" y="562"/>
<use href="#tb" x="1876.9" y="571.5"/>
<use href="#tb" x="1889.8" y="550.4"/>
<use href="#tb" x="1902.6" y="598.7"/>
<use href="#tb" x="1915.5" y="592.3"/>
<use href="#tb" x="1928.4" y="599.1"/>
<path d="M1537 378C1540 373.3 1549.2 357 1555 350C1560.8 343 1566.6 339 1572 336C1577.4 333 1582 332.3 1587.5 332C1593 331.7 1599.9 332.3 1605 334C1610.1 335.7 1613.8 338.3 1618 342C1622.2 345.7 1625.5 349.9 1630 356C1634.5 362.1 1640 370.6 1645 378.5C1650 386.4 1655 394.3 1660 403.5C1665 412.7 1670 423.9 1675 433.5C1680 443.1 1685 453.1 1690 461C1695 468.9 1700.4 475.2 1705 481C1709.6 486.8 1713.3 492.2 1717.5 496C1721.7 499.8 1723.6 501.8 1730 503.5C1736.4 505.2 1751.7 506 1756 506.5" fill="none" stroke="#000" stroke-width="3.5" stroke-linecap="round"/>
<path d="M1536 431C1539.2 427.5 1549 414.8 1555 410C1561 405.2 1566.6 404.1 1572 402.5C1577.4 400.9 1580.8 400.1 1587.5 400.5C1594.2 400.9 1605.4 401.3 1612.5 404.8C1619.6 408.2 1624.6 415.2 1630 421C1635.4 426.8 1640 433.1 1645 439.8C1650 446.4 1655 453.3 1660 461C1665 468.7 1670 477.7 1675 486C1680 494.3 1685 503.9 1690 511C1695 518.1 1699.6 524.3 1705 528.5C1710.4 532.7 1714 534.1 1722.5 536C1731 537.9 1750.4 539.1 1756 539.8" fill="none" stroke="#000" stroke-width="3.5" stroke-linecap="round"/>
<path d="M1536 516C1540 512.2 1553.5 498.4 1560 493.5C1566.5 488.6 1570.4 488 1575 486.5C1579.6 485 1581.2 484.4 1587.5 484.8C1593.8 485.1 1605.4 485.4 1612.5 488.5C1619.6 491.6 1624.6 498.5 1630 503.5C1635.4 508.5 1640 513.1 1645 518.5C1650 523.9 1655 530.2 1660 536C1665 541.8 1670 547.7 1675 553.5C1680 559.3 1685 566.2 1690 571C1695 575.8 1699.6 579.1 1705 582.2C1710.4 585.4 1714 587.7 1722.5 589.8C1731 591.8 1750.4 593.9 1756 594.8" fill="none" stroke="#000" stroke-width="3.5" stroke-linecap="round"/>
</g>
<line x1="1755" y1="143" x2="1755" y2="632" stroke="#000" stroke-width="1.5" stroke-dasharray="5.5 3.5"/>
<path d="M757 326L757 279" stroke="#000" stroke-width="2.4" fill="none"/>
<path d="M757 260L767 279L747 279Z" fill="#000"/>
<path d="M893 326L893 279" stroke="#000" stroke-width="2.4" fill="none"/>
<path d="M893 260L903 279L883 279Z" fill="#000"/>
<path d="M1296 384L1296 353" stroke="#000" stroke-width="2.4" fill="none"/>
<path d="M1296 336L1305 353L1287 353Z" fill="#000"/>
<path d="M1431 375L1431 326" stroke="#000" stroke-width="2.4" fill="none"/>
<path d="M1431 309L1440 326L1422 326Z" fill="#000"/>
<path d="M1072.8 206L1066.1 235.5" stroke="#33f" stroke-width="2.2" fill="none"/>
<path d="M1061.5 256L1056.4 233.3L1075.9 237.7Z" fill="#33f"/>
<path d="M1157.8 212.5L1166.7 268.8" stroke="#f00" stroke-width="2.2" fill="none"/>
<path d="M1170 289.5L1155.8 270.5L1177.6 267Z" fill="#f00"/>
<path d="M1702.5 304.5L1702.5 498" stroke="#000" stroke-width="2.4" fill="none"/>
<path d="M1702.5 516L1693.5 498L1711.5 498Z" fill="#000"/>
<path d="M1787 394.8L1727.2 476.7" stroke="#000" stroke-width="2.4" fill="none"/>
<path d="M1716 492L1719.9 471.3L1734.5 482Z" fill="#000"/>
<path d="M1616 577L1676 577" stroke="#000" stroke-width="2.4" fill="none"/>
<path d="M1695 577L1676 586L1676 568Z" fill="#000"/>
<text x="1034.6" y="202.5" font-size="39.5" textLength="46.8" lengthAdjust="spacingAndGlyphs" fill="#00f">x4</text>
<text x="1122.3" y="202.5" font-size="39.5" textLength="46.4" lengthAdjust="spacingAndGlyphs" fill="#f00">x2</text>
<text x="1594.2" y="275" font-size="41" textLength="153.1" lengthAdjust="spacingAndGlyphs" fill="#f00">0.60 eV</text>
<text x="1764.2" y="381" font-size="41" textLength="151.1" lengthAdjust="spacingAndGlyphs" fill="#33f">0.55 eV</text>
<text x="1444.7" y="588.5" font-size="40" textLength="151.6" lengthAdjust="spacingAndGlyphs" fill="#000">0.70 eV</text>
<text x="1785.6" y="211" font-size="46.5" textLength="26" lengthAdjust="spacingAndGlyphs" fill="#000">E</text>
<text x="1812.1" y="223" font-size="30.5" textLength="92.8" lengthAdjust="spacingAndGlyphs" fill="#000">Fermi</text>
<text x="767.9" y="387.2" font-size="39.5" textLength="110.5" lengthAdjust="spacingAndGlyphs" fill="#000">Cs 5<tspan font-style="italic">p</tspan></text>
<text x="766.5" y="444.8" font-size="39.5" textLength="110.4" lengthAdjust="spacingAndGlyphs" fill="#000">Pb 6<tspan font-style="italic">s</tspan></text>
<text x="766.3" y="503.5" font-size="39.5" textLength="110.9" lengthAdjust="spacingAndGlyphs" fill="#000">Br 4<tspan font-style="italic">p</tspan></text>
<text x="766.4" y="562.2" font-size="39.5" textLength="103.9" lengthAdjust="spacingAndGlyphs" fill="#000">Br 4<tspan font-style="italic">s</tspan></text>
<text x="1310.4" y="416" font-size="39.5" textLength="116" lengthAdjust="spacingAndGlyphs" fill="#000">Pb 6<tspan font-style="italic">p</tspan></text>
<text x="1310.5" y="474.8" font-size="39.5" textLength="110.7" lengthAdjust="spacingAndGlyphs" fill="#000">Pb 6<tspan font-style="italic">s</tspan></text>
<text x="1310.3" y="533" font-size="39.5" textLength="110.1" lengthAdjust="spacingAndGlyphs" fill="#000">Br 4<tspan font-style="italic">p</tspan></text>
<rect x="680" y="143" width="1244.5" height="489.25" fill="none" stroke="#000" stroke-width="2.8"/>
<text x="690.6" y="682.2" font-size="46.5" textLength="57.9" lengthAdjust="spacingAndGlyphs" fill="#000">12</text>
<text x="861.8" y="682.2" font-size="46.5" textLength="58.4" lengthAdjust="spacingAndGlyphs" fill="#000">10</text>
<text x="1045.5" y="682.2" font-size="46.5" textLength="30.8" lengthAdjust="spacingAndGlyphs" fill="#000">8</text>
<text x="1217" y="682.2" font-size="46.5" textLength="31.1" lengthAdjust="spacingAndGlyphs" fill="#000">6</text>
<text x="1391.2" y="682.2" font-size="46.5" textLength="28.6" lengthAdjust="spacingAndGlyphs" fill="#000">4</text>
<text x="1561.6" y="682.2" font-size="46.5" textLength="31.8" lengthAdjust="spacingAndGlyphs" fill="#000">2</text>
<text x="1733.6" y="682.2" font-size="46.5" textLength="30.1" lengthAdjust="spacingAndGlyphs" fill="#000">0</text>
<text x="1898" y="682.2" font-size="46.5" textLength="40.3" lengthAdjust="spacingAndGlyphs" fill="#000">-2</text>
<text x="1073.6" y="732" font-size="44.5" textLength="459.7" lengthAdjust="spacingAndGlyphs" fill="#000">Binding energy (eV)</text>
<text transform="translate(1987,656) rotate(-90)" x="-3.8" font-size="46.5" textLength="524.6" lengthAdjust="spacingAndGlyphs" fill="#000">Logarithic intensity (A.U.)</text>
<line x1="824.1" y1="800" x2="824.1" y2="807.5" stroke="#000" stroke-width="1.4"/>
<line x1="824.1" y1="1314" x2="824.1" y2="1306.5" stroke="#000" stroke-width="1.4"/>
<line x1="912" y1="800" x2="912" y2="814.5" stroke="#000" stroke-width="1.4"/>
<line x1="912" y1="1314" x2="912" y2="1299.5" stroke="#000" stroke-width="1.4"/>
<line x1="999.8" y1="800" x2="999.8" y2="807.5" stroke="#000" stroke-width="1.4"/>
<line x1="999.8" y1="1314" x2="999.8" y2="1306.5" stroke="#000" stroke-width="1.4"/>
<line x1="1087.7" y1="800" x2="1087.7" y2="814.5" stroke="#000" stroke-width="1.4"/>
<line x1="1087.7" y1="1314" x2="1087.7" y2="1299.5" stroke="#000" stroke-width="1.4"/>
<line x1="1175.5" y1="800" x2="1175.5" y2="807.5" stroke="#000" stroke-width="1.4"/>
<line x1="1175.5" y1="1314" x2="1175.5" y2="1306.5" stroke="#000" stroke-width="1.4"/>
<line x1="1263.3" y1="800" x2="1263.3" y2="814.5" stroke="#000" stroke-width="1.4"/>
<line x1="1263.3" y1="1314" x2="1263.3" y2="1299.5" stroke="#000" stroke-width="1.4"/>
<line x1="736.2" y1="1290.7" x2="743.2" y2="1290.7" stroke="#000" stroke-width="1.4"/>
<line x1="1301" y1="1290.7" x2="1294" y2="1290.7" stroke="#000" stroke-width="1.4"/>
<line x1="736.2" y1="1267.4" x2="750.2" y2="1267.4" stroke="#000" stroke-width="1.4"/>
<line x1="1301" y1="1267.4" x2="1287" y2="1267.4" stroke="#000" stroke-width="1.4"/>
<line x1="736.2" y1="1244.1" x2="743.2" y2="1244.1" stroke="#000" stroke-width="1.4"/>
<line x1="1301" y1="1244.1" x2="1294" y2="1244.1" stroke="#000" stroke-width="1.4"/>
<line x1="736.2" y1="1220.8" x2="750.2" y2="1220.8" stroke="#000" stroke-width="1.4"/>
<line x1="1301" y1="1220.8" x2="1287" y2="1220.8" stroke="#000" stroke-width="1.4"/>
<line x1="736.2" y1="1197.5" x2="743.2" y2="1197.5" stroke="#000" stroke-width="1.4"/>
<line x1="1301" y1="1197.5" x2="1294" y2="1197.5" stroke="#000" stroke-width="1.4"/>
<line x1="736.2" y1="1174.2" x2="750.2" y2="1174.2" stroke="#000" stroke-width="1.4"/>
<line x1="1301" y1="1174.2" x2="1287" y2="1174.2" stroke="#000" stroke-width="1.4"/>
<line x1="736.2" y1="1150.9" x2="743.2" y2="1150.9" stroke="#000" stroke-width="1.4"/>
<line x1="1301" y1="1150.9" x2="1294" y2="1150.9" stroke="#000" stroke-width="1.4"/>
<line x1="736.2" y1="1127.6" x2="750.2" y2="1127.6" stroke="#000" stroke-width="1.4"/>
<line x1="1301" y1="1127.6" x2="1287" y2="1127.6" stroke="#000" stroke-width="1.4"/>
<line x1="736.2" y1="1104.3" x2="743.2" y2="1104.3" stroke="#000" stroke-width="1.4"/>
<line x1="1301" y1="1104.3" x2="1294" y2="1104.3" stroke="#000" stroke-width="1.4"/>
<line x1="736.2" y1="1081" x2="750.2" y2="1081" stroke="#000" stroke-width="1.4"/>
<line x1="1301" y1="1081" x2="1287" y2="1081" stroke="#000" stroke-width="1.4"/>
<line x1="736.2" y1="1057.7" x2="743.2" y2="1057.7" stroke="#000" stroke-width="1.4"/>
<line x1="1301" y1="1057.7" x2="1294" y2="1057.7" stroke="#000" stroke-width="1.4"/>
<line x1="736.2" y1="1034.4" x2="750.2" y2="1034.4" stroke="#000" stroke-width="1.4"/>
<line x1="1301" y1="1034.4" x2="1287" y2="1034.4" stroke="#000" stroke-width="1.4"/>
<line x1="736.2" y1="1011.1" x2="743.2" y2="1011.1" stroke="#000" stroke-width="1.4"/>
<line x1="1301" y1="1011.1" x2="1294" y2="1011.1" stroke="#000" stroke-width="1.4"/>
<line x1="736.2" y1="987.8" x2="750.2" y2="987.8" stroke="#000" stroke-width="1.4"/>
<line x1="1301" y1="987.8" x2="1287" y2="987.8" stroke="#000" stroke-width="1.4"/>
<line x1="736.2" y1="964.5" x2="743.2" y2="964.5" stroke="#000" stroke-width="1.4"/>
<line x1="1301" y1="964.5" x2="1294" y2="964.5" stroke="#000" stroke-width="1.4"/>
<line x1="736.2" y1="941.2" x2="750.2" y2="941.2" stroke="#000" stroke-width="1.4"/>
<line x1="1301" y1="941.2" x2="1287" y2="941.2" stroke="#000" stroke-width="1.4"/>
<line x1="736.2" y1="917.9" x2="743.2" y2="917.9" stroke="#000" stroke-width="1.4"/>
<line x1="1301" y1="917.9" x2="1294" y2="917.9" stroke="#000" stroke-width="1.4"/>
<line x1="736.2" y1="894.6" x2="750.2" y2="894.6" stroke="#000" stroke-width="1.4"/>
<line x1="1301" y1="894.6" x2="1287" y2="894.6" stroke="#000" stroke-width="1.4"/>
<line x1="736.2" y1="871.3" x2="743.2" y2="871.3" stroke="#000" stroke-width="1.4"/>
<line x1="1301" y1="871.3" x2="1294" y2="871.3" stroke="#000" stroke-width="1.4"/>
<line x1="736.2" y1="848" x2="750.2" y2="848" stroke="#000" stroke-width="1.4"/>
<line x1="1301" y1="848" x2="1287" y2="848" stroke="#000" stroke-width="1.4"/>
<line x1="736.2" y1="824.7" x2="743.2" y2="824.7" stroke="#000" stroke-width="1.4"/>
<line x1="1301" y1="824.7" x2="1294" y2="824.7" stroke="#000" stroke-width="1.4"/>
<g clip-path="url(#clC)">
<polyline points="736.2,1310.3 753.8,1309.9 771.4,1309.6 789,1309.2 806.5,1308.9 824.1,1308.5 841.7,1307.9 859.2,1307.3 876.8,1306.7 894.4,1306.1 912,1305.5 929.5,1303 947.1,1298 964.7,1290.5 982.2,1279.5 999.8,1266 1017.4,1245 1034.9,1218.2 1052.5,1191.2 1070.1,1162 1087.7,1135.8 1105.2,1117 1122.8,1099.5 1140.4,1088.2 1157.9,1084.5 1175.5,1078.2 1193.1,1079.5 1210.6,1083.2 1228.2,1088.2 1245.8,1095.8 1263.3,1109.5 1280.9,1117 1298.5,1125.8" fill="none" stroke="#000" stroke-width="1"/>
<use href="#cc" x="736.2" y="1310.3"/>
<use href="#cc" x="753.8" y="1309.9"/>
<use href="#cc" x="771.4" y="1309.6"/>
<use href="#cc" x="789" y="1309.2"/>
<use href="#cc" x="806.5" y="1308.9"/>
<use href="#cc" x="824.1" y="1308.5"/>
<use href="#cc" x="841.7" y="1307.9"/>
<use href="#cc" x="859.2" y="1307.3"/>
<use href="#cc" x="876.8" y="1306.7"/>
<use href="#cc" x="894.4" y="1306.1"/>
<use href="#cc" x="912" y="1305.5"/>
<use href="#cc" x="929.5" y="1303"/>
<use href="#cc" x="947.1" y="1298"/>
<use href="#cc" x="964.7" y="1290.5"/>
<use href="#cc" x="982.2" y="1279.5"/>
<use href="#cc" x="999.8" y="1266"/>
<use href="#cc" x="1017.4" y="1245"/>
<use href="#cc" x="1034.9" y="1218.2"/>
<use href="#cc" x="1052.5" y="1191.2"/>
<use href="#cc" x="1070.1" y="1162"/>
<use href="#cc" x="1087.7" y="1135.8"/>
<use href="#cc" x="1105.2" y="1117"/>
<use href="#cc" x="1122.8" y="1099.5"/>
<use href="#cc" x="1140.4" y="1088.2"/>
<use href="#cc" x="1157.9" y="1084.5"/>
<use href="#cc" x="1175.5" y="1078.2"/>
<use href="#cc" x="1193.1" y="1079.5"/>
<use href="#cc" x="1210.6" y="1083.2"/>
<use href="#cc" x="1228.2" y="1088.2"/>
<use href="#cc" x="1245.8" y="1095.8"/>
<use href="#cc" x="1263.3" y="1109.5"/>
<use href="#cc" x="1280.9" y="1117"/>
<use href="#cc" x="1298.5" y="1125.8"/>
<polyline points="736.2,1192 753.8,1191.2 771.4,1190.4 789,1189.6 806.5,1188.8 824.1,1188 841.7,1187.2 859.2,1186.4 876.8,1185.6 894.4,1184.8 912,1184 929.5,1182.5 947.1,1181 964.7,1178 982.2,1170.6 999.8,1150 1017.4,1121 1034.9,1090 1052.5,1063 1070.1,1033.2 1087.7,1010.8 1105.2,990.8 1122.8,977 1140.4,973.2 1157.9,965.8 1175.5,969.5 1193.1,970.8 1210.6,977 1228.2,983.2 1245.8,992 1263.3,1000.8 1280.9,1005.8 1298.5,1015.8" fill="none" stroke="#000" stroke-width="1"/>
<use href="#sc" x="736.2" y="1192"/>
<use href="#sc" x="753.8" y="1191.2"/>
<use href="#sc" x="771.4" y="1190.4"/>
<use href="#sc" x="789" y="1189.6"/>
<use href="#sc" x="806.5" y="1188.8"/>
<use href="#sc" x="824.1" y="1188"/>
<use href="#sc" x="841.7" y="1187.2"/>
<use href="#sc" x="859.2" y="1186.4"/>
<use href="#sc" x="876.8" y="1185.6"/>
<use href="#sc" x="894.4" y="1184.8"/>
<use href="#sc" x="912" y="1184"/>
<use href="#sc" x="929.5" y="1182.5"/>
<use href="#sc" x="947.1" y="1181"/>
<use href="#sc" x="964.7" y="1178"/>
<use href="#sc" x="982.2" y="1170.6"/>
<use href="#sc" x="999.8" y="1150"/>
<use href="#sc" x="1017.4" y="1121"/>
<use href="#sc" x="1034.9" y="1090"/>
<use href="#sc" x="1052.5" y="1063"/>
<use href="#sc" x="1070.1" y="1033.2"/>
<use href="#sc" x="1087.7" y="1010.8"/>
<use href="#sc" x="1105.2" y="990.8"/>
<use href="#sc" x="1122.8" y="977"/>
<use href="#sc" x="1140.4" y="973.2"/>
<use href="#sc" x="1157.9" y="965.8"/>
<use href="#sc" x="1175.5" y="969.5"/>
<use href="#sc" x="1193.1" y="970.8"/>
<use href="#sc" x="1210.6" y="977"/>
<use href="#sc" x="1228.2" y="983.2"/>
<use href="#sc" x="1245.8" y="992"/>
<use href="#sc" x="1263.3" y="1000.8"/>
<use href="#sc" x="1280.9" y="1005.8"/>
<use href="#sc" x="1298.5" y="1015.8"/>
<polyline points="736.2,1074 753.8,1073.4 771.4,1072.8 789,1072.2 806.5,1071.6 824.1,1071 841.7,1070 859.2,1069 876.8,1068 894.4,1067 912,1066 929.5,1064 947.1,1061.5 964.7,1056.5 982.2,1051.5 999.8,1040.2 1017.4,1012.8 1034.9,985.2 1052.5,960.2 1070.1,932.8 1087.7,904 1105.2,881.5 1122.8,862.8 1140.4,853.2 1157.9,849 1175.5,845.2 1193.1,845.2 1210.6,849.8 1228.2,854 1245.8,860.2 1263.3,870.2 1280.9,879 1298.5,895.2" fill="none" stroke="#00f" stroke-width="1"/>
<use href="#tc" x="736.2" y="1057"/>
<use href="#tc" x="753.8" y="1056.4"/>
<use href="#tc" x="771.4" y="1055.8"/>
<use href="#tc" x="789" y="1055.2"/>
<use href="#tc" x="806.5" y="1054.6"/>
<use href="#tc" x="824.1" y="1054"/>
<use href="#tc" x="841.7" y="1053"/>
<use href="#tc" x="859.2" y="1052"/>
<use href="#tc" x="876.8" y="1051"/>
<use href="#tc" x="894.4" y="1050"/>
<use href="#tc" x="912" y="1049"/>
<use href="#tc" x="929.5" y="1047"/>
<use href="#tc" x="947.1" y="1044.5"/>
<use href="#tc" x="964.7" y="1039.5"/>
<use href="#tc" x="982.2" y="1034.5"/>
<use href="#tc" x="999.8" y="1023.2"/>
<use href="#tc" x="1017.4" y="995.8"/>
<use href="#tc" x="1034.9" y="968.2"/>
<use href="#tc" x="1052.5" y="943.2"/>
<use href="#tc" x="1070.1" y="915.8"/>
<use href="#tc" x="1087.7" y="887"/>
<use href="#tc" x="1105.2" y="864.5"/>
<use href="#tc" x="1122.8" y="845.8"/>
<use href="#tc" x="1140.4" y="836.2"/>
<use href="#tc" x="1157.9" y="832"/>
<use href="#tc" x="1175.5" y="828.2"/>
<use href="#tc" x="1193.1" y="828.2"/>
<use href="#tc" x="1210.6" y="832.8"/>
<use href="#tc" x="1228.2" y="837"/>
<use href="#tc" x="1245.8" y="843.2"/>
<use href="#tc" x="1263.3" y="853.2"/>
<use href="#tc" x="1280.9" y="862"/>
<use href="#tc" x="1298.5" y="878.2"/>
</g>
<line x1="728" y1="1081.7" x2="984" y2="1060.2" stroke="#000" stroke-width="5"/>
<line x1="978" y1="1060.2" x2="1011" y2="1058.8" stroke="#000" stroke-width="3.4"/>
<line x1="977" y1="1077" x2="1135.2" y2="840.8" stroke="#000" stroke-width="4.6"/>
<line x1="737" y1="1198.2" x2="984" y2="1176" stroke="#000" stroke-width="5"/>
<line x1="978" y1="1176.5" x2="1018" y2="1173" stroke="#000" stroke-width="3.4"/>
<line x1="973" y1="1195.5" x2="1119" y2="954" stroke="#000" stroke-width="4.6"/>
<line x1="736" y1="1310.8" x2="975" y2="1301.4" stroke="#000" stroke-width="5"/>
<line x1="970" y1="1301.6" x2="1010" y2="1300" stroke="#000" stroke-width="3.4"/>
<line x1="962" y1="1320" x2="1143" y2="1063" stroke="#000" stroke-width="4.6"/>
<line x1="978.5" y1="913" x2="978.5" y2="1304" stroke="#f00" stroke-width="1.4" stroke-dasharray="6 3.5"/>
<line x1="985.5" y1="913" x2="985.5" y2="1190" stroke="#000" stroke-width="1.5" stroke-dasharray="6 3.5"/>
<path d="M924.5 992.5L955.8 992.5" stroke="#000" stroke-width="1.6" fill="none"/>
<path d="M975.8 992.5L955.8 1002L955.8 983Z" fill="#000"/>
<path d="M1030 992.5L1009.5 992.5" stroke="#000" stroke-width="1.6" fill="none"/>
<path d="M989.5 992.5L1009.5 983L1009.5 1002Z" fill="#000"/>
<path d="M924.5 1100.8L955.8 1100.8" stroke="#000" stroke-width="1.6" fill="none"/>
<path d="M975.8 1100.8L955.8 1110.2L955.8 1091.2Z" fill="#000"/>
<path d="M1030 1100.8L1009.5 1100.8" stroke="#000" stroke-width="1.6" fill="none"/>
<path d="M989.5 1100.8L1009.5 1091.2L1009.5 1110.2Z" fill="#000"/>
<text x="780.2" y="1033.2" font-size="40" textLength="152.1" lengthAdjust="spacingAndGlyphs" fill="#000">0.02 eV</text>
<text x="782.7" y="1153.2" font-size="40" textLength="152.1" lengthAdjust="spacingAndGlyphs" fill="#000">0.02 eV</text>
<rect x="736.25" y="800" width="564.75" height="514" fill="none" stroke="#000" stroke-width="1.6"/>
<text x="706.8" y="1365.8" font-size="46.5" textLength="58.7" lengthAdjust="spacingAndGlyphs" fill="#000">18</text>
<text x="880.6" y="1365.8" font-size="46.5" textLength="57.9" lengthAdjust="spacingAndGlyphs" fill="#000">17</text>
<text x="1057.5" y="1365.8" font-size="46.5" textLength="58.7" lengthAdjust="spacingAndGlyphs" fill="#000">16</text>
<text x="1232.5" y="1365.8" font-size="46.5" textLength="58.7" lengthAdjust="spacingAndGlyphs" fill="#000">15</text>
<text x="789.1" y="1407" font-size="44" textLength="456.9" lengthAdjust="spacingAndGlyphs" fill="#000">Binding energy (eV)</text>
<text transform="translate(711,1322.3) rotate(-90)" x="-3.5" font-size="47" textLength="524.2" lengthAdjust="spacingAndGlyphs" fill="#000">Normalized intensity (A.U.)</text>
<line x1="1453.8" y1="800" x2="1453.8" y2="807.5" stroke="#000" stroke-width="1.4"/>
<line x1="1453.8" y1="1314" x2="1453.8" y2="1306.5" stroke="#000" stroke-width="1.4"/>
<line x1="1547.5" y1="800" x2="1547.5" y2="814.5" stroke="#000" stroke-width="1.4"/>
<line x1="1547.5" y1="1314" x2="1547.5" y2="1299.5" stroke="#000" stroke-width="1.4"/>
<line x1="1641.2" y1="800" x2="1641.2" y2="807.5" stroke="#000" stroke-width="1.4"/>
<line x1="1641.2" y1="1314" x2="1641.2" y2="1306.5" stroke="#000" stroke-width="1.4"/>
<line x1="1735" y1="800" x2="1735" y2="814.5" stroke="#000" stroke-width="1.4"/>
<line x1="1735" y1="1314" x2="1735" y2="1299.5" stroke="#000" stroke-width="1.4"/>
<line x1="1828.8" y1="800" x2="1828.8" y2="807.5" stroke="#000" stroke-width="1.4"/>
<line x1="1828.8" y1="1314" x2="1828.8" y2="1306.5" stroke="#000" stroke-width="1.4"/>
<line x1="1359" y1="1309" x2="1373.5" y2="1309" stroke="#000" stroke-width="1.4"/>
<line x1="1923.8" y1="1309" x2="1909.2" y2="1309" stroke="#000" stroke-width="1.4"/>
<line x1="1359" y1="1275.2" x2="1366.5" y2="1275.2" stroke="#000" stroke-width="1.4"/>
<line x1="1923.8" y1="1275.2" x2="1916.2" y2="1275.2" stroke="#000" stroke-width="1.4"/>
<line x1="1359" y1="1241.3" x2="1373.5" y2="1241.3" stroke="#000" stroke-width="1.4"/>
<line x1="1923.8" y1="1241.3" x2="1909.2" y2="1241.3" stroke="#000" stroke-width="1.4"/>
<line x1="1359" y1="1207.5" x2="1366.5" y2="1207.5" stroke="#000" stroke-width="1.4"/>
<line x1="1923.8" y1="1207.5" x2="1916.2" y2="1207.5" stroke="#000" stroke-width="1.4"/>
<line x1="1359" y1="1173.6" x2="1373.5" y2="1173.6" stroke="#000" stroke-width="1.4"/>
<line x1="1923.8" y1="1173.6" x2="1909.2" y2="1173.6" stroke="#000" stroke-width="1.4"/>
<line x1="1359" y1="1139.8" x2="1366.5" y2="1139.8" stroke="#000" stroke-width="1.4"/>
<line x1="1923.8" y1="1139.8" x2="1916.2" y2="1139.8" stroke="#000" stroke-width="1.4"/>
<line x1="1359" y1="1105.9" x2="1373.5" y2="1105.9" stroke="#000" stroke-width="1.4"/>
<line x1="1923.8" y1="1105.9" x2="1909.2" y2="1105.9" stroke="#000" stroke-width="1.4"/>
<line x1="1359" y1="1072" x2="1366.5" y2="1072" stroke="#000" stroke-width="1.4"/>
<line x1="1923.8" y1="1072" x2="1916.2" y2="1072" stroke="#000" stroke-width="1.4"/>
<line x1="1359" y1="1038.2" x2="1373.5" y2="1038.2" stroke="#000" stroke-width="1.4"/>
<line x1="1923.8" y1="1038.2" x2="1909.2" y2="1038.2" stroke="#000" stroke-width="1.4"/>
<line x1="1359" y1="1004.3" x2="1366.5" y2="1004.3" stroke="#000" stroke-width="1.4"/>
<line x1="1923.8" y1="1004.3" x2="1916.2" y2="1004.3" stroke="#000" stroke-width="1.4"/>
<line x1="1359" y1="970.5" x2="1373.5" y2="970.5" stroke="#000" stroke-width="1.4"/>
<line x1="1923.8" y1="970.5" x2="1909.2" y2="970.5" stroke="#000" stroke-width="1.4"/>
<line x1="1359" y1="936.6" x2="1366.5" y2="936.6" stroke="#000" stroke-width="1.4"/>
<line x1="1923.8" y1="936.6" x2="1916.2" y2="936.6" stroke="#000" stroke-width="1.4"/>
<line x1="1359" y1="902.8" x2="1373.5" y2="902.8" stroke="#000" stroke-width="1.4"/>
<line x1="1923.8" y1="902.8" x2="1909.2" y2="902.8" stroke="#000" stroke-width="1.4"/>
<line x1="1359" y1="869" x2="1366.5" y2="869" stroke="#000" stroke-width="1.4"/>
<line x1="1923.8" y1="869" x2="1916.2" y2="869" stroke="#000" stroke-width="1.4"/>
<line x1="1359" y1="835.1" x2="1373.5" y2="835.1" stroke="#000" stroke-width="1.4"/>
<line x1="1923.8" y1="835.1" x2="1909.2" y2="835.1" stroke="#000" stroke-width="1.4"/>
<g clip-path="url(#clD)">
<polyline points="1360,1023.2 1378.8,1057 1397.5,1085 1416.2,1120 1435,1149.5 1453.8,1178.2 1472.5,1209 1491.2,1238.2 1510,1270.8 1528.8,1288 1547.5,1297 1566.2,1299.5 1585,1300.1 1603.8,1300.7 1622.5,1301.3 1641.2,1301.9 1660,1302.5 1678.8,1302.9 1697.5,1303.3 1716.2,1303.7 1735,1304.1 1753.8,1304.5 1772.5,1304.9 1791.2,1305.2 1810,1305.6 1828.8,1306 1847.5,1306.4 1866.2,1306.8 1885,1307.2 1903.8,1307.6 1922.5,1308" fill="none" stroke="#000" stroke-width="1"/>
<use href="#cc" x="1360" y="1023.2"/>
<use href="#cc" x="1378.8" y="1057"/>
<use href="#cc" x="1397.5" y="1085"/>
<use href="#cc" x="1416.2" y="1120"/>
<use href="#cc" x="1435" y="1149.5"/>
<use href="#cc" x="1453.8" y="1178.2"/>
<use href="#cc" x="1472.5" y="1209"/>
<use href="#cc" x="1491.2" y="1238.2"/>
<use href="#cc" x="1510" y="1270.8"/>
<use href="#cc" x="1528.8" y="1288"/>
<use href="#cc" x="1547.5" y="1297"/>
<use href="#cc" x="1566.2" y="1299.5"/>
<use href="#cc" x="1585" y="1300.1"/>
<use href="#cc" x="1603.8" y="1300.7"/>
<use href="#cc" x="1622.5" y="1301.3"/>
<use href="#cc" x="1641.2" y="1301.9"/>
<use href="#cc" x="1660" y="1302.5"/>
<use href="#cc" x="1678.8" y="1302.9"/>
<use href="#cc" x="1697.5" y="1303.3"/>
<use href="#cc" x="1716.2" y="1303.7"/>
<use href="#cc" x="1735" y="1304.1"/>
<use href="#cc" x="1753.8" y="1304.5"/>
<use href="#cc" x="1772.5" y="1304.9"/>
<use href="#cc" x="1791.2" y="1305.2"/>
<use href="#cc" x="1810" y="1305.6"/>
<use href="#cc" x="1828.8" y="1306"/>
<use href="#cc" x="1847.5" y="1306.4"/>
<use href="#cc" x="1866.2" y="1306.8"/>
<use href="#cc" x="1885" y="1307.2"/>
<use href="#cc" x="1903.8" y="1307.6"/>
<use href="#cc" x="1922.5" y="1308"/>
<polyline points="1360,900.8 1378.8,935.8 1397.5,964.5 1416.2,992.5 1435,1033.2 1453.8,1063.2 1472.5,1100.8 1491.2,1134.5 1510,1172 1528.8,1195 1547.5,1200 1566.2,1200.3 1585,1200.7 1603.8,1201 1622.5,1201.4 1641.2,1201.8 1660,1202.1 1678.8,1202.5 1697.5,1202.8 1716.2,1203.2 1735,1203.5 1753.8,1203.8 1772.5,1204.2 1791.2,1204.5 1810,1204.9 1828.8,1205.2 1847.5,1205.6 1866.2,1206 1885,1206.3 1903.8,1206.7 1922.5,1207" fill="none" stroke="#000" stroke-width="1"/>
<use href="#sc" x="1360" y="900.8"/>
<use href="#sc" x="1378.8" y="935.8"/>
<use href="#sc" x="1397.5" y="964.5"/>
<use href="#sc" x="1416.2" y="992.5"/>
<use href="#sc" x="1435" y="1033.2"/>
<use href="#sc" x="1453.8" y="1063.2"/>
<use href="#sc" x="1472.5" y="1100.8"/>
<use href="#sc" x="1491.2" y="1134.5"/>
<use href="#sc" x="1510" y="1172"/>
<use href="#sc" x="1528.8" y="1195"/>
<use href="#sc" x="1547.5" y="1200"/>
<use href="#sc" x="1566.2" y="1200.3"/>
<use href="#sc" x="1585" y="1200.7"/>
<use href="#sc" x="1603.8" y="1201"/>
<use href="#sc" x="1622.5" y="1201.4"/>
<use href="#sc" x="1641.2" y="1201.8"/>
<use href="#sc" x="1660" y="1202.1"/>
<use href="#sc" x="1678.8" y="1202.5"/>
<use href="#sc" x="1697.5" y="1202.8"/>
<use href="#sc" x="1716.2" y="1203.2"/>
<use href="#sc" x="1735" y="1203.5"/>
<use href="#sc" x="1753.8" y="1203.8"/>
<use href="#sc" x="1772.5" y="1204.2"/>
<use href="#sc" x="1791.2" y="1204.5"/>
<use href="#sc" x="1810" y="1204.9"/>
<use href="#sc" x="1828.8" y="1205.2"/>
<use href="#sc" x="1847.5" y="1205.6"/>
<use href="#sc" x="1866.2" y="1206"/>
<use href="#sc" x="1885" y="1206.3"/>
<use href="#sc" x="1903.8" y="1206.7"/>
<use href="#sc" x="1922.5" y="1207"/>
<polyline points="1360,814 1378.8,837.8 1397.5,870.2 1416.2,900.2 1435,927.8 1453.8,962.8 1472.5,996.5 1491.2,1031.5 1510,1062 1528.8,1087 1547.5,1099 1566.2,1099.1 1585,1099.2 1603.8,1099.4 1622.5,1099.5 1641.2,1099.6 1660,1099.8 1678.8,1099.9 1697.5,1100 1716.2,1100.1 1735,1100.2 1753.8,1100.4 1772.5,1100.5 1791.2,1100.6 1810,1100.8 1828.8,1100.9 1847.5,1101 1866.2,1101.1 1885,1101.2 1903.8,1101.4 1922.5,1101.5" fill="none" stroke="#00f" stroke-width="1"/>
<use href="#tc" x="1360" y="797"/>
<use href="#tc" x="1378.8" y="820.8"/>
<use href="#tc" x="1397.5" y="853.2"/>
<use href="#tc" x="1416.2" y="883.2"/>
<use href="#tc" x="1435" y="910.8"/>
<use href="#tc" x="1453.8" y="945.8"/>
<use href="#tc" x="1472.5" y="979.5"/>
<use href="#tc" x="1491.2" y="1014.5"/>
<use href="#tc" x="1510" y="1045"/>
<use href="#tc" x="1528.8" y="1070"/>
<use href="#tc" x="1547.5" y="1082"/>
<use href="#tc" x="1566.2" y="1082.1"/>
<use href="#tc" x="1585" y="1082.2"/>
<use href="#tc" x="1603.8" y="1082.4"/>
<use href="#tc" x="1622.5" y="1082.5"/>
<use href="#tc" x="1641.2" y="1082.6"/>
<use href="#tc" x="1660" y="1082.8"/>
<use href="#tc" x="1678.8" y="1082.9"/>
<use href="#tc" x="1697.5" y="1083"/>
<use href="#tc" x="1716.2" y="1083.1"/>
<use href="#tc" x="1735" y="1083.2"/>
<use href="#tc" x="1753.8" y="1083.4"/>
<use href="#tc" x="1772.5" y="1083.5"/>
<use href="#tc" x="1791.2" y="1083.6"/>
<use href="#tc" x="1810" y="1083.8"/>
<use href="#tc" x="1828.8" y="1083.9"/>
<use href="#tc" x="1847.5" y="1084"/>
<use href="#tc" x="1866.2" y="1084.1"/>
<use href="#tc" x="1885" y="1084.2"/>
<use href="#tc" x="1903.8" y="1084.4"/>
<use href="#tc" x="1922.5" y="1084.5"/>
</g>
<line x1="1738" y1="800" x2="1738" y2="1291" stroke="#000" stroke-width="1.5" stroke-dasharray="6 3.5"/>
<line x1="1359" y1="810.8" x2="1531.3" y2="1107" stroke="#000" stroke-width="4.6"/>
<line x1="1504" y1="1096.7" x2="1535" y2="1097.4" stroke="#000" stroke-width="3.4"/>
<line x1="1530" y1="1097.3" x2="1923" y2="1105.8" stroke="#000" stroke-width="5"/>
<line x1="1364" y1="911.7" x2="1531.3" y2="1211.4" stroke="#000" stroke-width="4.6"/>
<line x1="1503" y1="1198.4" x2="1535" y2="1199.3" stroke="#000" stroke-width="3.4"/>
<line x1="1530" y1="1199.2" x2="1923" y2="1209" stroke="#000" stroke-width="5"/>
<line x1="1359" y1="1030.8" x2="1528" y2="1306" stroke="#000" stroke-width="4.6"/>
<line x1="1501" y1="1296.5" x2="1535" y2="1297.2" stroke="#000" stroke-width="3.4"/>
<line x1="1530" y1="1297.1" x2="1920" y2="1308.2" stroke="#000" stroke-width="5"/>
<path d="M1527 1019.5L1527 1070" stroke="#000" stroke-width="1.8" fill="none"/>
<path d="M1527 1092L1517.5 1070L1536.5 1070Z" fill="#000"/>
<path d="M1525 1119.5L1525 1167.5" stroke="#000" stroke-width="1.8" fill="none"/>
<path d="M1525 1189.5L1515.5 1167.5L1534.5 1167.5Z" fill="#000"/>
<path d="M1520 1222L1520 1267.5" stroke="#000" stroke-width="1.8" fill="none"/>
<path d="M1520 1289.5L1510.5 1267.5L1529.5 1267.5Z" fill="#000"/>
<text x="1555.4" y="1062" font-size="40" textLength="152.4" lengthAdjust="spacingAndGlyphs" fill="#000">1.12 eV</text>
<text x="1555.5" y="1177" font-size="40" textLength="151.1" lengthAdjust="spacingAndGlyphs" fill="#000">1.12 eV</text>
<text x="1559.2" y="1275.8" font-size="40" textLength="151.1" lengthAdjust="spacingAndGlyphs" fill="#000">1.13 eV</text>
<text x="1771.9" y="895.8" font-size="46.5" textLength="25.7" lengthAdjust="spacingAndGlyphs" fill="#000">E</text>
<text x="1797.1" y="907" font-size="30.5" textLength="91.5" lengthAdjust="spacingAndGlyphs" fill="#000">Fermi</text>
<rect x="1359" y="800" width="564.75" height="514" fill="none" stroke="#000" stroke-width="1.6"/>
<text x="1342.5" y="1365.8" font-size="46.5" textLength="30.6" lengthAdjust="spacingAndGlyphs" fill="#000">2</text>
<text x="1531.1" y="1365.8" font-size="46.5" textLength="28.8" lengthAdjust="spacingAndGlyphs" fill="#000">1</text>
<text x="1717.3" y="1365.8" font-size="46.5" textLength="30.1" lengthAdjust="spacingAndGlyphs" fill="#000">0</text>
<text x="1897.8" y="1365.8" font-size="46.5" textLength="44.5" lengthAdjust="spacingAndGlyphs" fill="#000">-1</text>
<text x="1411.1" y="1407" font-size="44" textLength="457.2" lengthAdjust="spacingAndGlyphs" fill="#000">Binding energy (eV)</text>
<text transform="translate(1992.3,1317.2) rotate(-90)" x="-3.5" font-size="43.5" textLength="523.8" lengthAdjust="spacingAndGlyphs" fill="#000">Normalized intensity (A.U.)</text>
</svg></body></html>
